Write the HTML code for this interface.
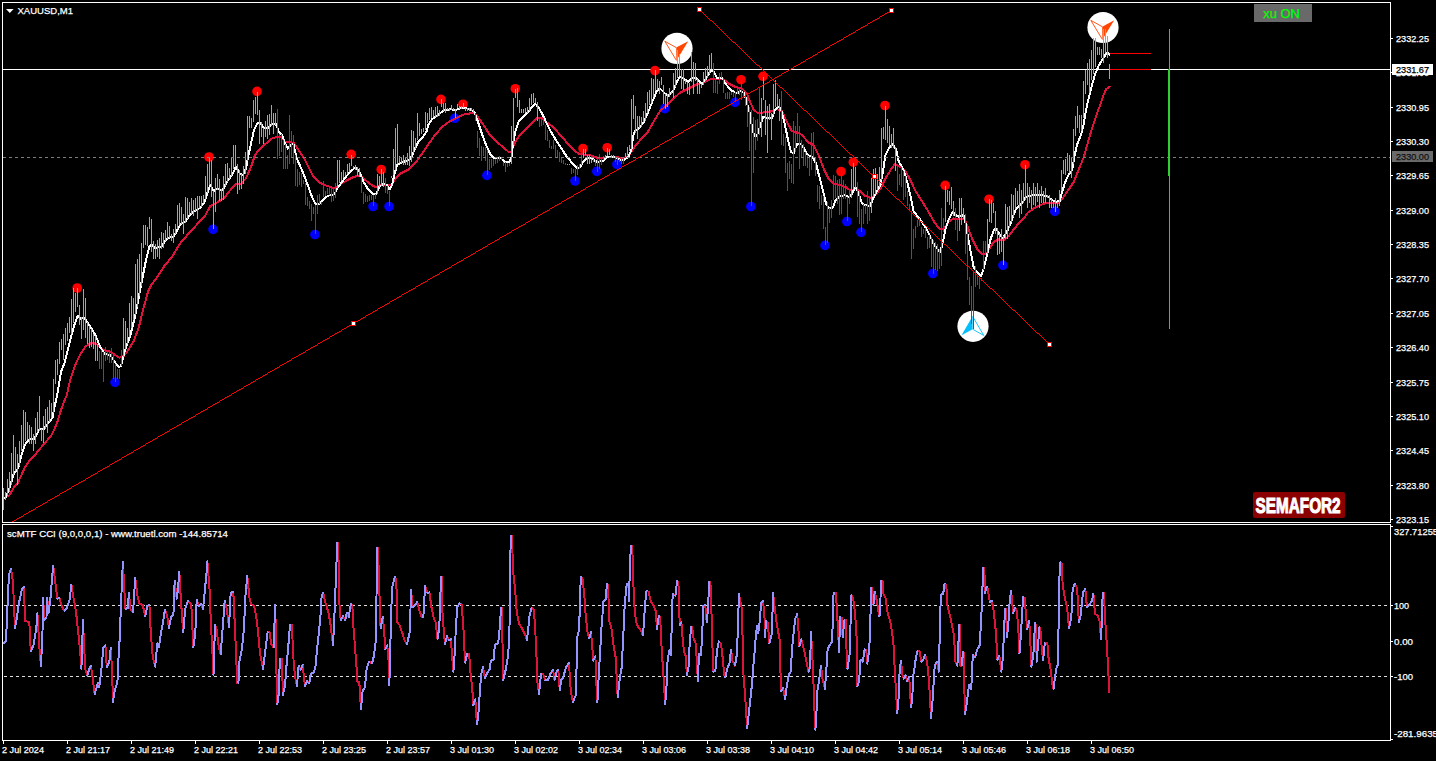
<!DOCTYPE html><html><head><meta charset="utf-8"><title>XAUUSD,M1</title>
<style>html,body{margin:0;padding:0;background:#000;}body{width:1436px;height:761px;overflow:hidden;font-family:"Liberation Sans",sans-serif;}svg{display:block}text{font-family:"Liberation Sans",sans-serif;}</style></head><body>
<svg width="1436" height="761" viewBox="0 0 1436 761">
<rect x="0" y="0" width="1436" height="761" fill="#000"/>
<defs><clipPath id="cm"><rect x="3" y="3" width="1387" height="519"/></clipPath><clipPath id="cs"><rect x="3" y="525" width="1387" height="215"/></clipPath></defs>
<g shape-rendering="crispEdges">
<rect x="2" y="2" width="1389" height="1" fill="#fff"/>
<rect x="2" y="2" width="1" height="739" fill="#fff"/>
<rect x="1390" y="2" width="1" height="739" fill="#fff"/>
<rect x="2" y="522" width="1389" height="1" fill="#fff"/>
<rect x="2" y="523" width="1389" height="1" fill="#000"/>
<rect x="2" y="524" width="1389" height="1" fill="#fff"/>
<rect x="2" y="740" width="1389" height="1" fill="#fff"/>
<rect x="3" y="69" width="1387" height="1" fill="#fff"/>
<path d="M4 605h3v1h-3zM10 605h3v1h-3zM16 605h3v1h-3zM22 605h3v1h-3zM28 605h3v1h-3zM34 605h3v1h-3zM40 605h3v1h-3zM46 605h3v1h-3zM52 605h3v1h-3zM58 605h3v1h-3zM64 605h3v1h-3zM70 605h3v1h-3zM76 605h3v1h-3zM82 605h3v1h-3zM88 605h3v1h-3zM94 605h3v1h-3zM100 605h3v1h-3zM106 605h3v1h-3zM112 605h3v1h-3zM118 605h3v1h-3zM124 605h3v1h-3zM130 605h3v1h-3zM136 605h3v1h-3zM142 605h3v1h-3zM148 605h3v1h-3zM154 605h3v1h-3zM160 605h3v1h-3zM166 605h3v1h-3zM172 605h3v1h-3zM178 605h3v1h-3zM184 605h3v1h-3zM190 605h3v1h-3zM196 605h3v1h-3zM202 605h3v1h-3zM208 605h3v1h-3zM214 605h3v1h-3zM220 605h3v1h-3zM226 605h3v1h-3zM232 605h3v1h-3zM238 605h3v1h-3zM244 605h3v1h-3zM250 605h3v1h-3zM256 605h3v1h-3zM262 605h3v1h-3zM268 605h3v1h-3zM274 605h3v1h-3zM280 605h3v1h-3zM286 605h3v1h-3zM292 605h3v1h-3zM298 605h3v1h-3zM304 605h3v1h-3zM310 605h3v1h-3zM316 605h3v1h-3zM322 605h3v1h-3zM328 605h3v1h-3zM334 605h3v1h-3zM340 605h3v1h-3zM346 605h3v1h-3zM352 605h3v1h-3zM358 605h3v1h-3zM364 605h3v1h-3zM370 605h3v1h-3zM376 605h3v1h-3zM382 605h3v1h-3zM388 605h3v1h-3zM394 605h3v1h-3zM400 605h3v1h-3zM406 605h3v1h-3zM412 605h3v1h-3zM418 605h3v1h-3zM424 605h3v1h-3zM430 605h3v1h-3zM436 605h3v1h-3zM442 605h3v1h-3zM448 605h3v1h-3zM454 605h3v1h-3zM460 605h3v1h-3zM466 605h3v1h-3zM472 605h3v1h-3zM478 605h3v1h-3zM484 605h3v1h-3zM490 605h3v1h-3zM496 605h3v1h-3zM502 605h3v1h-3zM508 605h3v1h-3zM514 605h3v1h-3zM520 605h3v1h-3zM526 605h3v1h-3zM532 605h3v1h-3zM538 605h3v1h-3zM544 605h3v1h-3zM550 605h3v1h-3zM556 605h3v1h-3zM562 605h3v1h-3zM568 605h3v1h-3zM574 605h3v1h-3zM580 605h3v1h-3zM586 605h3v1h-3zM592 605h3v1h-3zM598 605h3v1h-3zM604 605h3v1h-3zM610 605h3v1h-3zM616 605h3v1h-3zM622 605h3v1h-3zM628 605h3v1h-3zM634 605h3v1h-3zM640 605h3v1h-3zM646 605h3v1h-3zM652 605h3v1h-3zM658 605h3v1h-3zM664 605h3v1h-3zM670 605h3v1h-3zM676 605h3v1h-3zM682 605h3v1h-3zM688 605h3v1h-3zM694 605h3v1h-3zM700 605h3v1h-3zM706 605h3v1h-3zM712 605h3v1h-3zM718 605h3v1h-3zM724 605h3v1h-3zM730 605h3v1h-3zM736 605h3v1h-3zM742 605h3v1h-3zM748 605h3v1h-3zM754 605h3v1h-3zM760 605h3v1h-3zM766 605h3v1h-3zM772 605h3v1h-3zM778 605h3v1h-3zM784 605h3v1h-3zM790 605h3v1h-3zM796 605h3v1h-3zM802 605h3v1h-3zM808 605h3v1h-3zM814 605h3v1h-3zM820 605h3v1h-3zM826 605h3v1h-3zM832 605h3v1h-3zM838 605h3v1h-3zM844 605h3v1h-3zM850 605h3v1h-3zM856 605h3v1h-3zM862 605h3v1h-3zM868 605h3v1h-3zM874 605h3v1h-3zM880 605h3v1h-3zM886 605h3v1h-3zM892 605h3v1h-3zM898 605h3v1h-3zM904 605h3v1h-3zM910 605h3v1h-3zM916 605h3v1h-3zM922 605h3v1h-3zM928 605h3v1h-3zM934 605h3v1h-3zM940 605h3v1h-3zM946 605h3v1h-3zM952 605h3v1h-3zM958 605h3v1h-3zM964 605h3v1h-3zM970 605h3v1h-3zM976 605h3v1h-3zM982 605h3v1h-3zM988 605h3v1h-3zM994 605h3v1h-3zM1000 605h3v1h-3zM1006 605h3v1h-3zM1012 605h3v1h-3zM1018 605h3v1h-3zM1024 605h3v1h-3zM1030 605h3v1h-3zM1036 605h3v1h-3zM1042 605h3v1h-3zM1048 605h3v1h-3zM1054 605h3v1h-3zM1060 605h3v1h-3zM1066 605h3v1h-3zM1072 605h3v1h-3zM1078 605h3v1h-3zM1084 605h3v1h-3zM1090 605h3v1h-3zM1096 605h3v1h-3zM1102 605h3v1h-3zM1108 605h3v1h-3zM1114 605h3v1h-3zM1120 605h3v1h-3zM1126 605h3v1h-3zM1132 605h3v1h-3zM1138 605h3v1h-3zM1144 605h3v1h-3zM1150 605h3v1h-3zM1156 605h3v1h-3zM1162 605h3v1h-3zM1168 605h3v1h-3zM1174 605h3v1h-3zM1180 605h3v1h-3zM1186 605h3v1h-3zM1192 605h3v1h-3zM1198 605h3v1h-3zM1204 605h3v1h-3zM1210 605h3v1h-3zM1216 605h3v1h-3zM1222 605h3v1h-3zM1228 605h3v1h-3zM1234 605h3v1h-3zM1240 605h3v1h-3zM1246 605h3v1h-3zM1252 605h3v1h-3zM1258 605h3v1h-3zM1264 605h3v1h-3zM1270 605h3v1h-3zM1276 605h3v1h-3zM1282 605h3v1h-3zM1288 605h3v1h-3zM1294 605h3v1h-3zM1300 605h3v1h-3zM1306 605h3v1h-3zM1312 605h3v1h-3zM1318 605h3v1h-3zM1324 605h3v1h-3zM1330 605h3v1h-3zM1336 605h3v1h-3zM1342 605h3v1h-3zM1348 605h3v1h-3zM1354 605h3v1h-3zM1360 605h3v1h-3zM1366 605h3v1h-3zM1372 605h3v1h-3zM1378 605h3v1h-3zM1384 605h3v1h-3z" fill="#dedede"/>
<path d="M4 676h3v1h-3zM10 676h3v1h-3zM16 676h3v1h-3zM22 676h3v1h-3zM28 676h3v1h-3zM34 676h3v1h-3zM40 676h3v1h-3zM46 676h3v1h-3zM52 676h3v1h-3zM58 676h3v1h-3zM64 676h3v1h-3zM70 676h3v1h-3zM76 676h3v1h-3zM82 676h3v1h-3zM88 676h3v1h-3zM94 676h3v1h-3zM100 676h3v1h-3zM106 676h3v1h-3zM112 676h3v1h-3zM118 676h3v1h-3zM124 676h3v1h-3zM130 676h3v1h-3zM136 676h3v1h-3zM142 676h3v1h-3zM148 676h3v1h-3zM154 676h3v1h-3zM160 676h3v1h-3zM166 676h3v1h-3zM172 676h3v1h-3zM178 676h3v1h-3zM184 676h3v1h-3zM190 676h3v1h-3zM196 676h3v1h-3zM202 676h3v1h-3zM208 676h3v1h-3zM214 676h3v1h-3zM220 676h3v1h-3zM226 676h3v1h-3zM232 676h3v1h-3zM238 676h3v1h-3zM244 676h3v1h-3zM250 676h3v1h-3zM256 676h3v1h-3zM262 676h3v1h-3zM268 676h3v1h-3zM274 676h3v1h-3zM280 676h3v1h-3zM286 676h3v1h-3zM292 676h3v1h-3zM298 676h3v1h-3zM304 676h3v1h-3zM310 676h3v1h-3zM316 676h3v1h-3zM322 676h3v1h-3zM328 676h3v1h-3zM334 676h3v1h-3zM340 676h3v1h-3zM346 676h3v1h-3zM352 676h3v1h-3zM358 676h3v1h-3zM364 676h3v1h-3zM370 676h3v1h-3zM376 676h3v1h-3zM382 676h3v1h-3zM388 676h3v1h-3zM394 676h3v1h-3zM400 676h3v1h-3zM406 676h3v1h-3zM412 676h3v1h-3zM418 676h3v1h-3zM424 676h3v1h-3zM430 676h3v1h-3zM436 676h3v1h-3zM442 676h3v1h-3zM448 676h3v1h-3zM454 676h3v1h-3zM460 676h3v1h-3zM466 676h3v1h-3zM472 676h3v1h-3zM478 676h3v1h-3zM484 676h3v1h-3zM490 676h3v1h-3zM496 676h3v1h-3zM502 676h3v1h-3zM508 676h3v1h-3zM514 676h3v1h-3zM520 676h3v1h-3zM526 676h3v1h-3zM532 676h3v1h-3zM538 676h3v1h-3zM544 676h3v1h-3zM550 676h3v1h-3zM556 676h3v1h-3zM562 676h3v1h-3zM568 676h3v1h-3zM574 676h3v1h-3zM580 676h3v1h-3zM586 676h3v1h-3zM592 676h3v1h-3zM598 676h3v1h-3zM604 676h3v1h-3zM610 676h3v1h-3zM616 676h3v1h-3zM622 676h3v1h-3zM628 676h3v1h-3zM634 676h3v1h-3zM640 676h3v1h-3zM646 676h3v1h-3zM652 676h3v1h-3zM658 676h3v1h-3zM664 676h3v1h-3zM670 676h3v1h-3zM676 676h3v1h-3zM682 676h3v1h-3zM688 676h3v1h-3zM694 676h3v1h-3zM700 676h3v1h-3zM706 676h3v1h-3zM712 676h3v1h-3zM718 676h3v1h-3zM724 676h3v1h-3zM730 676h3v1h-3zM736 676h3v1h-3zM742 676h3v1h-3zM748 676h3v1h-3zM754 676h3v1h-3zM760 676h3v1h-3zM766 676h3v1h-3zM772 676h3v1h-3zM778 676h3v1h-3zM784 676h3v1h-3zM790 676h3v1h-3zM796 676h3v1h-3zM802 676h3v1h-3zM808 676h3v1h-3zM814 676h3v1h-3zM820 676h3v1h-3zM826 676h3v1h-3zM832 676h3v1h-3zM838 676h3v1h-3zM844 676h3v1h-3zM850 676h3v1h-3zM856 676h3v1h-3zM862 676h3v1h-3zM868 676h3v1h-3zM874 676h3v1h-3zM880 676h3v1h-3zM886 676h3v1h-3zM892 676h3v1h-3zM898 676h3v1h-3zM904 676h3v1h-3zM910 676h3v1h-3zM916 676h3v1h-3zM922 676h3v1h-3zM928 676h3v1h-3zM934 676h3v1h-3zM940 676h3v1h-3zM946 676h3v1h-3zM952 676h3v1h-3zM958 676h3v1h-3zM964 676h3v1h-3zM970 676h3v1h-3zM976 676h3v1h-3zM982 676h3v1h-3zM988 676h3v1h-3zM994 676h3v1h-3zM1000 676h3v1h-3zM1006 676h3v1h-3zM1012 676h3v1h-3zM1018 676h3v1h-3zM1024 676h3v1h-3zM1030 676h3v1h-3zM1036 676h3v1h-3zM1042 676h3v1h-3zM1048 676h3v1h-3zM1054 676h3v1h-3zM1060 676h3v1h-3zM1066 676h3v1h-3zM1072 676h3v1h-3zM1078 676h3v1h-3zM1084 676h3v1h-3zM1090 676h3v1h-3zM1096 676h3v1h-3zM1102 676h3v1h-3zM1108 676h3v1h-3zM1114 676h3v1h-3zM1120 676h3v1h-3zM1126 676h3v1h-3zM1132 676h3v1h-3zM1138 676h3v1h-3zM1144 676h3v1h-3zM1150 676h3v1h-3zM1156 676h3v1h-3zM1162 676h3v1h-3zM1168 676h3v1h-3zM1174 676h3v1h-3zM1180 676h3v1h-3zM1186 676h3v1h-3zM1192 676h3v1h-3zM1198 676h3v1h-3zM1204 676h3v1h-3zM1210 676h3v1h-3zM1216 676h3v1h-3zM1222 676h3v1h-3zM1228 676h3v1h-3zM1234 676h3v1h-3zM1240 676h3v1h-3zM1246 676h3v1h-3zM1252 676h3v1h-3zM1258 676h3v1h-3zM1264 676h3v1h-3zM1270 676h3v1h-3zM1276 676h3v1h-3zM1282 676h3v1h-3zM1288 676h3v1h-3zM1294 676h3v1h-3zM1300 676h3v1h-3zM1306 676h3v1h-3zM1312 676h3v1h-3zM1318 676h3v1h-3zM1324 676h3v1h-3zM1330 676h3v1h-3zM1336 676h3v1h-3zM1342 676h3v1h-3zM1348 676h3v1h-3zM1354 676h3v1h-3zM1360 676h3v1h-3zM1366 676h3v1h-3zM1372 676h3v1h-3zM1378 676h3v1h-3zM1384 676h3v1h-3z" fill="#dedede"/>
</g>
<circle cx="677" cy="48.4" r="15.6" fill="#fff"/><polygon points="676.2,47.6 688.2,41.199999999999996 676.4,60.4" fill="#FF4500"/><path d="M664.8 41.199999999999996L676.2 47.6M664.8 41.199999999999996L676.4 60.4" stroke="#FF4500" stroke-width="0.9" fill="none"/>
<circle cx="1103" cy="27.5" r="15.6" fill="#fff"/><polygon points="1102.2,26.7 1114.2,20.3 1102.4,39.5" fill="#FF4500"/><path d="M1090.8 20.3L1102.2 26.7M1090.8 20.3L1102.4 39.5" stroke="#FF4500" stroke-width="0.9" fill="none"/>
<circle cx="973" cy="326.3" r="15.6" fill="#fff"/><polygon points="972.6,316.3 961.5,335.3 972.6,329.2" fill="#00BFFF"/><path d="M972.6 316.3L983.8 335.5L972.6 329.2" stroke="#00BFFF" stroke-width="0.9" fill="none"/>
<circle cx="77.2" cy="288" r="4.8" fill="#FF0000"/>
<circle cx="209" cy="157" r="4.8" fill="#FF0000"/>
<circle cx="257" cy="91.4" r="4.8" fill="#FF0000"/>
<circle cx="351.2" cy="154.3" r="4.8" fill="#FF0000"/>
<circle cx="381.2" cy="169.5" r="4.8" fill="#FF0000"/>
<circle cx="441" cy="99.4" r="4.8" fill="#FF0000"/>
<circle cx="463" cy="104.2" r="4.8" fill="#FF0000"/>
<circle cx="515.3" cy="88.7" r="4.8" fill="#FF0000"/>
<circle cx="583" cy="148.5" r="4.8" fill="#FF0000"/>
<circle cx="607.2" cy="147.7" r="4.8" fill="#FF0000"/>
<circle cx="655" cy="70.6" r="4.8" fill="#FF0000"/>
<circle cx="741" cy="79.7" r="4.8" fill="#FF0000"/>
<circle cx="763" cy="76.3" r="4.8" fill="#FF0000"/>
<circle cx="885" cy="105.5" r="4.8" fill="#FF0000"/>
<circle cx="853.3" cy="162.2" r="4.8" fill="#FF0000"/>
<circle cx="841" cy="171.5" r="4.8" fill="#FF0000"/>
<circle cx="945.2" cy="185.3" r="4.8" fill="#FF0000"/>
<circle cx="989" cy="199.2" r="4.8" fill="#FF0000"/>
<circle cx="1025" cy="164.7" r="4.8" fill="#FF0000"/>
<circle cx="115" cy="382.3" r="4.8" fill="#0000FF"/>
<circle cx="213" cy="229.4" r="4.8" fill="#0000FF"/>
<circle cx="314.9" cy="234.5" r="4.8" fill="#0000FF"/>
<circle cx="373" cy="206.5" r="4.8" fill="#0000FF"/>
<circle cx="389" cy="206.5" r="4.8" fill="#0000FF"/>
<circle cx="454.8" cy="118.3" r="4.8" fill="#0000FF"/>
<circle cx="486.9" cy="175.4" r="4.8" fill="#0000FF"/>
<circle cx="575" cy="181" r="4.8" fill="#0000FF"/>
<circle cx="596.8" cy="171.4" r="4.8" fill="#0000FF"/>
<circle cx="616.9" cy="164.4" r="4.8" fill="#0000FF"/>
<circle cx="664.8" cy="108.6" r="4.8" fill="#0000FF"/>
<circle cx="735" cy="102.4" r="4.8" fill="#0000FF"/>
<circle cx="750.9" cy="206.5" r="4.8" fill="#0000FF"/>
<circle cx="825" cy="245.4" r="4.8" fill="#0000FF"/>
<circle cx="846.9" cy="221.5" r="4.8" fill="#0000FF"/>
<circle cx="861" cy="232.3" r="4.8" fill="#0000FF"/>
<circle cx="932.8" cy="273.5" r="4.8" fill="#0000FF"/>
<circle cx="1002.9" cy="265.3" r="4.8" fill="#0000FF"/>
<circle cx="1054.8" cy="211.4" r="4.8" fill="#0000FF"/>
<g clip-path="url(#cm)" fill="none" stroke-linejoin="round" stroke-linecap="round" shape-rendering="crispEdges">
<polyline points="3.0,499.0 5.8,497.0 9.2,495.5 14.2,487.0 17.5,483.7 25.0,467.0 29.2,461.0 33.4,457.0 39.3,449.5 45.0,442.8 51.0,436.0 54.3,429.4 57.7,421.0 61.0,410.0 64.3,401.0 66.5,396.0 70.2,380.0 75.2,365.0 80.2,354.4 86.0,346.0 92.0,342.7 97.0,344.4 102.0,349.4 107.0,351.0 111.0,352.0 115.3,355.0 119.5,357.7 123.7,356.0 128.7,349.4 133.7,341.0 138.7,327.7 143.7,307.6 148.0,291.7 151.3,285.0 157.0,277.5 165.0,265.0 172.0,257.0 180.0,243.6 188.6,233.6 197.0,224.4 204.5,216.9 210.3,206.0 217.0,202.6 223.7,198.5 230.4,190.0 235.8,183.7 241.0,183.7 245.9,178.6 251.0,167.0 255.0,155.0 260.0,148.6 266.0,143.5 271.8,138.5 276.8,136.9 281.0,136.9 285.0,141.9 293.5,142.7 298.5,150.0 304.4,158.6 309.4,168.6 313.6,177.0 318.6,182.0 325.3,185.3 330.3,187.0 335.3,188.7 341.0,183.7 347.0,180.3 353.7,177.0 359.5,175.3 363.7,178.6 369.6,183.7 375.4,187.0 382.0,184.5 388.0,185.3 391.3,185.3 395.5,178.6 400.5,173.6 408.8,169.4 415.5,162.8 422.0,153.6 428.9,143.5 435.6,134.3 442.3,126.8 449.0,121.8 455.6,118.5 462.3,115.0 467.3,113.8 473.5,113.0 477.7,116.8 483.5,125.0 490.0,135.2 496.9,141.9 503.6,147.7 508.6,151.9 511.6,151.9 514.4,143.5 518.6,136.8 525.3,129.3 532.0,122.6 537.0,118.0 542.0,118.0 547.0,122.6 553.7,127.6 560.4,135.2 567.0,142.7 573.8,150.2 578.8,153.6 585.5,154.9 592.0,155.6 597.0,157.7 603.9,157.7 608.9,157.0 617.0,157.0 624.0,158.6 629.0,155.2 634.0,147.7 640.0,140.3 646.7,133.7 653.4,122.0 660.0,111.0 666.8,105.2 673.5,98.6 680.0,92.7 688.5,88.5 696.9,84.3 705.0,81.8 712.0,78.5 718.6,78.8 723.6,79.3 728.6,83.5 735.3,86.9 742.0,88.5 747.0,93.5 749.2,100.0 753.4,109.2 757.6,113.0 763.4,112.5 770.0,111.7 776.8,109.2 781.8,110.9 786.8,121.7 791.8,130.9 796.9,132.6 801.9,135.0 808.6,142.6 813.6,145.0 818.6,155.2 823.6,168.5 828.6,178.6 833.6,183.6 840.3,185.2 845.3,186.9 850.3,190.3 855.4,189.4 860.4,191.0 865.4,196.0 870.4,197.8 875.4,195.3 880.4,188.6 885.4,178.6 890.5,170.2 894.6,164.3 898.8,166.0 904.7,170.2 910.0,179.2 915.0,190.0 921.8,200.9 928.5,211.8 935.2,223.5 940.2,229.3 944.3,228.5 948.5,221.8 953.5,218.5 960.2,219.3 964.4,218.5 967.7,226.8 972.0,238.5 977.0,248.6 982.0,254.4 986.0,254.4 989.5,248.6 993.7,241.9 998.7,239.4 1003.7,240.2 1008.7,236.0 1013.7,229.3 1018.7,223.5 1023.7,218.5 1027.9,212.6 1033.8,208.4 1040.5,205.0 1047.0,202.6 1053.8,202.6 1058.8,202.6 1063.0,197.6 1068.9,189.2 1073.9,181.7 1077.7,171.9 1083.6,157.7 1088.6,140.0 1093.6,123.4 1098.6,108.4 1099.4,107.0 1102.8,97.0 1106.0,89.4 1109.5,86.6" stroke="#DC143C" stroke-width="2"/>
<polyline points="3.0,499.0 5.8,497.0 10.0,487.0 13.4,474.5 18.4,467.9 21.7,454.5 25.0,444.5 30.0,439.0 34.3,439.0 39.3,429.4 43.5,429.4 48.5,422.7 52.6,417.7 54.3,407.7 56.8,397.0 61.0,372.0 64.3,363.6 70.2,340.0 74.4,325.0 77.7,316.0 81.0,319.0 84.4,317.6 90.3,326.8 95.3,335.0 100.3,347.0 104.5,353.6 110.3,355.0 115.3,362.8 118.7,367.0 121.0,366.0 124.5,352.0 130.4,335.0 135.4,315.0 138.7,297.6 142.0,280.0 142.6,277.0 146.0,260.0 149.3,247.0 151.8,244.4 155.0,247.8 161.0,247.0 166.0,240.0 170.0,237.0 173.5,237.0 177.7,229.4 181.0,223.5 185.0,222.0 191.0,213.5 196.0,210.0 200.3,207.7 204.5,201.8 207.8,191.8 210.3,185.0 213.7,191.0 217.0,189.0 222.8,190.0 227.0,181.8 232.0,175.0 236.0,166.7 239.6,173.4 243.0,175.0 246.0,168.4 247.5,160.0 251.0,143.5 254.0,130.0 257.6,122.6 261.0,123.5 263.4,127.7 268.4,127.7 271.8,124.3 276.0,124.3 279.3,132.7 281.8,134.3 285.0,143.5 287.7,148.6 291.0,144.4 293.5,144.4 296.0,155.0 297.5,160.0 303.4,173.5 308.4,186.8 312.6,198.5 316.0,204.4 320.0,203.5 325.0,197.7 330.0,195.0 334.3,194.3 337.6,187.7 343.5,180.0 349.3,172.6 355.2,167.6 359.4,171.8 363.5,181.8 368.6,190.0 373.6,194.3 376.0,194.3 379.4,186.8 383.6,183.5 387.0,185.0 389.5,189.3 392.0,185.0 394.5,174.3 397.0,165.0 403.7,161.8 410.3,159.2 413.7,151.7 417.9,142.5 422.9,136.7 427.0,130.8 428.0,125.0 432.0,119.3 439.0,114.3 444.0,110.0 450.6,109.3 455.6,110.0 463.0,107.6 470.0,109.3 474.3,111.8 477.7,121.0 481.8,133.5 486.0,145.0 490.0,153.6 493.5,157.7 500.0,157.7 505.0,162.0 509.4,162.0 511.6,157.0 512.8,145.0 515.3,131.8 518.6,121.8 522.8,116.8 527.8,112.6 532.0,106.8 535.3,103.7 538.7,107.6 542.9,115.0 547.0,124.3 552.0,133.5 557.0,141.9 562.0,149.4 567.0,157.0 572.0,162.7 576.3,167.8 579.6,167.8 583.8,161.0 587.0,157.7 592.0,158.6 597.0,162.0 603.0,161.0 607.2,157.0 613.9,157.0 618.9,159.4 624.0,160.2 628.6,156.5 631.4,149.5 633.2,135.6 635.0,130.5 639.0,128.5 644.0,121.8 649.0,110.0 653.0,100.0 656.5,91.7 660.0,88.5 665.0,93.5 668.5,96.0 673.5,90.2 676.8,81.8 680.0,76.8 684.3,79.3 688.5,81.8 692.7,77.7 696.9,78.5 701.9,84.3 706.0,78.5 711.0,70.0 713.6,71.8 717.0,77.7 722.0,77.7 726.0,84.3 731.0,90.2 737.0,93.5 741.0,91.0 744.5,93.5 747.0,103.6 749.2,110.0 751.7,125.0 754.2,136.0 756.7,136.0 760.0,126.7 763.4,116.7 768.4,118.4 771.8,118.4 775.0,110.0 778.5,106.7 781.0,109.2 784.3,121.7 787.7,138.4 791.0,151.8 793.5,153.5 796.9,144.3 800.2,143.5 803.5,147.6 807.7,155.2 812.7,156.8 816.0,163.5 819.4,176.9 822.8,190.3 826.0,203.6 828.6,207.8 832.8,207.8 836.0,199.4 840.3,196.0 845.3,195.3 848.7,197.0 851.2,195.3 855.4,187.0 858.7,193.6 862.0,203.6 866.2,205.3 870.4,206.0 872.9,198.6 877.0,191.0 880.4,185.2 882.9,171.9 885.4,155.2 888.8,148.5 893.0,144.3 896.3,150.0 898.8,161.8 902.0,166.9 904.2,171.7 907.6,183.4 911.0,198.4 913.4,211.0 919.3,218.5 925.0,226.8 929.3,234.3 933.5,243.5 937.7,249.4 940.2,251.9 942.7,243.5 945.2,230.2 948.5,220.0 952.7,211.8 955.2,215.0 959.4,216.8 963.6,215.0 966.0,225.2 968.6,240.2 971.0,253.6 973.6,267.0 977.0,272.0 981.0,276.0 983.6,268.6 987.0,255.2 990.3,240.2 993.7,230.2 996.2,228.5 999.5,234.4 1002.8,238.5 1007.0,231.8 1011.2,221.8 1015.4,210.0 1018.7,206.0 1022.9,201.8 1026.2,196.7 1032.0,195.4 1040.5,195.0 1047.0,196.0 1052.0,200.0 1056.3,201.8 1059.7,201.0 1062.2,191.7 1064.7,183.4 1068.0,175.8 1072.2,170.0 1074.4,156.8 1076.9,145.0 1081.0,135.0 1083.6,125.0 1086.0,110.0 1088.6,98.6 1092.0,85.2 1095.3,73.5 1098.6,66.0 1102.0,60.2 1105.3,55.0 1107.8,52.6 1109.5,55.0" stroke="#fff" stroke-width="2"/>
</g>
<g shape-rendering="crispEdges" clip-path="url(#cm)">
<path d="M3 488v22h1v-22zM5 492v8h1v-8zM7 479v17h1v-17zM9 472v20h1v-20zM11 453v32h1v-32zM13 435v40h1v-40zM15 447v24h1v-24zM17 454v31h1v-31zM19 441v25h1v-25zM21 425v26h1v-26zM23 410v36h1v-36zM25 412v29h1v-29zM27 422v18h1v-18zM29 425v19h1v-19zM31 427v17h1v-17zM33 434v17h1v-17zM35 418v26h1v-26zM37 412v20h1v-20zM39 396v35h1v-35zM41 429v12h1v-12zM43 416v27h1v-27zM45 409v20h1v-20zM47 407v26h1v-26zM49 400v22h1v-22zM51 403v15h1v-15zM53 379v34h1v-34zM55 360v24h1v-24zM57 359v16h1v-16zM59 342v22h1v-22zM61 339v11h1v-11zM63 334v26h1v-26zM65 328v17h1v-17zM67 323v18h1v-18zM69 317v16h1v-16zM71 299v35h1v-35zM73 288v35h1v-35zM75 293v19h1v-19zM77 288v19h1v-19zM79 305v20h1v-20zM81 317v22h1v-22zM83 289v41h1v-41zM85 298v40h1v-40zM87 322v22h1v-22zM89 326v22h1v-22zM91 329v18h1v-18zM93 334v15h1v-15zM95 336v25h1v-25zM97 344v17h1v-17zM123 318v39h1v-39zM125 321v28h1v-28zM127 328v16h1v-16zM129 303v34h1v-34zM131 296v32h1v-32zM133 298v22h1v-22zM135 264v51h1v-51zM137 259v48h1v-48zM139 254v42h1v-42zM141 243v43h1v-43zM143 225v23h1v-23zM145 225v20h1v-20zM147 227v19h1v-19zM149 217v12h1v-12zM151 219v33h1v-33zM153 241v18h1v-18zM155 244v15h1v-15zM157 240v17h1v-17zM159 238v21h1v-21zM161 232v17h1v-17zM163 233v15h1v-15zM165 230v11h1v-11zM167 222v17h1v-17zM169 226v12h1v-12zM171 234v7h1v-7zM173 229v14h1v-14zM175 224v10h1v-10zM177 205v24h1v-24zM179 203v22h1v-22zM181 207v17h1v-17zM183 214v20h1v-20zM185 197v26h1v-26zM187 198v21h1v-21zM189 202v13h1v-13zM191 198v16h1v-16zM193 200v16h1v-16zM195 198v13h1v-13zM197 196v23h1v-23zM199 196v12h1v-12zM201 196v11h1v-11zM203 195v8h1v-8zM205 176v23h1v-23zM207 164v29h1v-29zM209 158v27h1v-27zM211 160v37h1v-37zM213 191v38h1v-38zM215 178v34h1v-34zM217 174v16h1v-16zM219 179v22h1v-22zM221 189v12h1v-12zM223 176v24h1v-24zM225 164v22h1v-22zM227 163v19h1v-19zM229 168v11h1v-11zM231 158v18h1v-18zM233 145v24h1v-24zM235 145v22h1v-22zM237 164v30h1v-30zM239 170v20h1v-20zM241 174v15h1v-15zM243 166v18h1v-18zM245 152v22h1v-22zM247 116v45h1v-45zM249 116v12h1v-12zM251 118v10h1v-10zM253 100v22h1v-22zM255 97v17h1v-17zM257 92v23h1v-23zM259 110v34h1v-34zM261 122v15h1v-15zM263 128v16h1v-16zM265 121v16h1v-16zM267 115v24h1v-24zM269 114v21h1v-21zM271 105v21h1v-21zM273 113v21h1v-21zM275 113v12h1v-12zM337 160v28h1v-28zM339 160v23h1v-23zM341 172v9h1v-9zM343 170v8h1v-8zM345 172v4h1v-4zM347 164v10h1v-10zM349 163v9h1v-9zM351 155v11h1v-11zM353 166v2h1v-2zM355 165v5h1v-5zM357 167v9h1v-9zM359 168v9h1v-9zM377 174v20h1v-20zM379 176v11h1v-11zM381 169v17h1v-17zM383 172v15h1v-15zM391 176v2h1v-2zM393 149v26h1v-26zM395 128v42h1v-42zM397 124v40h1v-40zM399 156v7h1v-7zM401 157v6h1v-6zM403 155v10h1v-10zM405 157v8h1v-8zM407 153v12h1v-12zM409 146v20h1v-20zM411 130v32h1v-32zM413 131v22h1v-22zM415 138v11h1v-11zM417 113v27h1v-27zM419 123v13h1v-13zM421 129v5h1v-5zM423 128v4h1v-4zM425 112v18h1v-18zM427 113v10h1v-10zM429 108v12h1v-12zM431 107v11h1v-11zM433 110v7h1v-7zM435 107v10h1v-10zM437 106v11h1v-11zM439 110v6h1v-6zM441 99v8h1v-8zM443 103v8h1v-8zM445 103v10h1v-10zM447 108v2h1v-2zM449 109v2h1v-2zM451 105v5h1v-5zM453 108v2h1v-2zM455 109v9h1v-9zM457 104v4h1v-4zM459 106v3h1v-3zM461 106v3h1v-3zM463 103v5h1v-5zM465 108v3h1v-3zM467 108v3h1v-3zM469 108v3h1v-3zM471 108v3h1v-3zM473 109v4h1v-4zM511 126v38h1v-38zM513 98v47h1v-47zM515 89v9h1v-9zM517 88v19h1v-19zM519 100v13h1v-13zM521 109v4h1v-4zM523 109v4h1v-4zM525 108v5h1v-5zM527 107v6h1v-6zM529 98v13h1v-13zM531 94v11h1v-11zM533 93v10h1v-10zM535 98v5h1v-5zM537 102v19h1v-19zM567 164v1h1v-1zM569 164v1h1v-1zM583 149v9h1v-9zM585 149v6h1v-6zM587 155v9h1v-9zM589 155v9h1v-9zM591 159v4h1v-4zM605 155v2h1v-2zM607 148v8h1v-8zM609 149v6h1v-6zM611 155v2h1v-2zM613 155v3h1v-3zM625 153v4h1v-4zM627 147v8h1v-8zM629 145v6h1v-6zM631 99v50h1v-50zM633 95v24h1v-24zM635 106v27h1v-27zM637 116v23h1v-23zM639 116v12h1v-12zM641 117v10h1v-10zM643 111v11h1v-11zM645 103v18h1v-18zM647 92v21h1v-21zM649 90v15h1v-15zM651 78v25h1v-25zM653 79v18h1v-18zM655 70v21h1v-21zM657 79v11h1v-11zM659 81v13h1v-13zM661 77v8h1v-8zM663 85v19h1v-19zM665 94v15h1v-15zM667 94v13h1v-13zM669 88v9h1v-9zM671 92v2h1v-2zM673 73v25h1v-25zM675 68v19h1v-19zM677 50v28h1v-28zM679 54v22h1v-22zM681 69v20h1v-20zM683 69v21h1v-21zM685 80v4h1v-4zM687 82v12h1v-12zM689 83v12h1v-12zM691 52v30h1v-30zM693 62v32h1v-32zM695 63v18h1v-18zM697 79v15h1v-15zM699 83v11h1v-11zM701 84v4h1v-4zM703 72v13h1v-13zM705 68v13h1v-13zM707 66v12h1v-12zM709 55v19h1v-19zM711 53v16h1v-16zM761 98v39h1v-39zM763 77v23h1v-23zM765 100v35h1v-35zM767 106v47h1v-47zM769 104v16h1v-16zM771 113v27h1v-27zM773 84v31h1v-31zM775 80v27h1v-27zM777 94v13h1v-13zM779 99v22h1v-22zM851 169v29h1v-29zM853 163v26h1v-26zM855 167v21h1v-21zM871 178v35h1v-35zM873 169v28h1v-28zM875 168v26h1v-26zM877 174v16h1v-16zM879 167v20h1v-20zM881 128v52h1v-52zM883 127v12h1v-12zM885 106v34h1v-34zM887 119v24h1v-24zM889 126v20h1v-20zM891 134v14h1v-14zM893 128v20h1v-20zM895 147v24h1v-24zM945 186v36h1v-36zM947 190v12h1v-12zM949 191v14h1v-14zM951 187v22h1v-22zM953 201v15h1v-15zM959 198v33h1v-33zM961 198v27h1v-27zM963 208v11h1v-11zM987 219v35h1v-35zM989 199v23h1v-23zM991 200v23h1v-23zM993 203v10h1v-10zM995 211v23h1v-23zM997 228v27h1v-27zM999 234v20h1v-20zM1001 229v23h1v-23zM1003 236v29h1v-29zM1005 204v35h1v-35zM1007 207v32h1v-32zM1009 206v22h1v-22zM1011 194v28h1v-28zM1013 195v22h1v-22zM1015 188v21h1v-21zM1017 191v14h1v-14zM1019 184v34h1v-34zM1021 190v24h1v-24zM1023 183v20h1v-20zM1025 165v35h1v-35zM1027 183v25h1v-25zM1029 187v16h1v-16zM1031 190v19h1v-19zM1033 183v22h1v-22zM1035 187v19h1v-19zM1037 183v19h1v-19zM1039 190v18h1v-18zM1041 186v17h1v-17zM1043 191v12h1v-12zM1045 188v15h1v-15zM1047 195v3h1v-3zM1049 195v13h1v-13zM1051 199v9h1v-9zM1053 202v6h1v-6zM1055 198v14h1v-14zM1057 202v6h1v-6zM1059 190v16h1v-16zM1061 170v21h1v-21zM1063 160v14h1v-14zM1065 159v16h1v-16zM1067 153v18h1v-18zM1069 155v18h1v-18zM1071 158v20h1v-20zM1073 129v35h1v-35zM1075 116v20h1v-20zM1077 106v22h1v-22zM1079 115v18h1v-18zM1081 115v16h1v-16zM1083 81v37h1v-37zM1085 70v24h1v-24zM1087 63v22h1v-22zM1089 59v34h1v-34zM1091 50v30h1v-30zM1093 38v36h1v-36zM1095 38v29h1v-29zM1097 47v8h1v-8zM1099 47v8h1v-8zM1101 49v9h1v-9zM1103 29v34h1v-34zM1105 29v24h1v-24zM1107 36v22h1v-22zM1109 64v15h1v-15z" fill="#00FA9A"/>
<path d="M99 351v18h1v-18zM101 350v19h1v-19zM103 352v30h1v-30zM105 347v14h1v-14zM107 350v10h1v-10zM109 350v13h1v-13zM111 348v15h1v-15zM113 355v24h1v-24zM115 364v18h1v-18zM117 369v10h1v-10zM119 369v10h1v-10zM121 350v16h1v-16zM277 109v50h1v-50zM279 134v22h1v-22zM281 134v18h1v-18zM283 140v29h1v-29zM285 144v25h1v-25zM287 155v14h1v-14zM289 115v49h1v-49zM291 131v26h1v-26zM293 135v29h1v-29zM295 155v31h1v-31zM297 169v18h1v-18zM299 172v13h1v-13zM301 173v14h1v-14zM303 180v4h1v-4zM305 183v22h1v-22zM307 197v9h1v-9zM309 201v8h1v-8zM311 204v17h1v-17zM313 207v7h1v-7zM315 205v29h1v-29zM317 195v19h1v-19zM319 194v10h1v-10zM321 202v3h1v-3zM323 181v16h1v-16zM325 191v5h1v-5zM327 188v6h1v-6zM329 188v7h1v-7zM331 188v14h1v-14zM333 189v12h1v-12zM335 183v15h1v-15zM361 177v16h1v-16zM363 192v12h1v-12zM365 194v8h1v-8zM367 196v6h1v-6zM369 195v6h1v-6zM371 195v5h1v-5zM373 195v11h1v-11zM375 194v5h1v-5zM385 178v15h1v-15zM387 186v8h1v-8zM389 191v15h1v-15zM475 113v8h1v-8zM477 131v17h1v-17zM479 138v18h1v-18zM481 146v15h1v-15zM483 147v9h1v-9zM485 147v14h1v-14zM487 150v25h1v-25zM489 159v11h1v-11zM491 159v9h1v-9zM493 159v7h1v-7zM495 159v5h1v-5zM497 157v6h1v-6zM499 156v5h1v-5zM501 157v3h1v-3zM503 162v4h1v-4zM505 162v10h1v-10zM507 163v4h1v-4zM509 163v3h1v-3zM539 118v9h1v-9zM541 118v8h1v-8zM543 118v7h1v-7zM545 125v15h1v-15zM547 130v11h1v-11zM549 140v8h1v-8zM551 146v3h1v-3zM553 140v9h1v-9zM555 145v12h1v-12zM557 150v8h1v-8zM559 152v10h1v-10zM561 157v6h1v-6zM563 160v4h1v-4zM565 163v2h1v-2zM571 168v6h1v-6zM573 169v4h1v-4zM575 169v12h1v-12zM577 165v10h1v-10zM579 164v5h1v-5zM581 155v10h1v-10zM593 159v3h1v-3zM595 160v6h1v-6zM597 157v15h1v-15zM599 154v15h1v-15zM601 159v6h1v-6zM603 156v4h1v-4zM615 158v4h1v-4zM617 158v7h1v-7zM619 159v3h1v-3zM621 159v5h1v-5zM623 159v5h1v-5zM713 63v30h1v-30zM715 80v13h1v-13zM717 81v13h1v-13zM719 73v11h1v-11zM721 72v6h1v-6zM723 78v15h1v-15zM725 93v6h1v-6zM727 92v7h1v-7zM729 92v7h1v-7zM731 92v3h1v-3zM733 92v5h1v-5zM735 92v10h1v-10zM737 86v8h1v-8zM739 87v8h1v-8zM741 80v20h1v-20zM743 92v5h1v-5zM745 92v14h1v-14zM747 95v32h1v-32zM749 107v44h1v-44zM751 110v96h1v-96zM753 117v56h1v-56zM755 120v30h1v-30zM757 119v22h1v-22zM759 88v47h1v-47zM781 91v54h1v-54zM783 134v12h1v-12zM785 137v36h1v-36zM787 163v28h1v-28zM789 161v18h1v-18zM791 164v19h1v-19zM793 121v63h1v-63zM795 126v26h1v-26zM797 113v29h1v-29zM799 126v43h1v-43zM801 140v18h1v-18zM803 144v22h1v-22zM805 152v14h1v-14zM807 155v13h1v-13zM809 157v19h1v-19zM811 133v37h1v-37zM813 132v26h1v-26zM815 158v18h1v-18zM817 185v17h1v-17zM819 186v23h1v-23zM821 195v10h1v-10zM823 196v33h1v-33zM825 227v18h1v-18zM827 202v41h1v-41zM829 208v15h1v-15zM831 200v18h1v-18zM833 175v25h1v-25zM835 176v22h1v-22zM837 180v24h1v-24zM839 179v36h1v-36zM841 174v40h1v-40zM843 180v19h1v-19zM845 184v15h1v-15zM847 197v24h1v-24zM849 191v13h1v-13zM857 182v35h1v-35zM859 190v34h1v-34zM861 209v23h1v-23zM863 204v20h1v-20zM865 205v9h1v-9zM867 191v33h1v-33zM869 197v24h1v-24zM897 165v26h1v-26zM899 174v11h1v-11zM901 167v20h1v-20zM903 171v29h1v-29zM905 176v21h1v-21zM907 191v15h1v-15zM909 204v7h1v-7zM911 211v48h1v-48zM913 229v20h1v-20zM915 226v12h1v-12zM917 220v7h1v-7zM919 218v8h1v-8zM921 227v10h1v-10zM923 229v5h1v-5zM925 228v10h1v-10zM927 237v12h1v-12zM929 235v13h1v-13zM931 237v30h1v-30zM933 240v34h1v-34zM935 242v28h1v-28zM937 244v27h1v-27zM939 249v20h1v-20zM941 208v58h1v-58zM943 218v14h1v-14zM955 208v22h1v-22zM957 218v23h1v-23zM965 214v40h1v-40zM967 227v53h1v-53zM969 277v28h1v-28zM971 286v38h1v-38zM973 271v58h1v-58zM975 266v21h1v-21zM977 275v10h1v-10zM979 277v12h1v-12zM981 278v3h1v-3zM983 241v29h1v-29zM985 241v13h1v-13z" fill="#DC143C"/>
</g>
<path d="M3 157h3v1h-3zM9 157h3v1h-3zM15 157h3v1h-3zM21 157h3v1h-3zM27 157h3v1h-3zM33 157h3v1h-3zM39 157h3v1h-3zM45 157h3v1h-3zM51 157h3v1h-3zM57 157h3v1h-3zM63 157h3v1h-3zM69 157h3v1h-3zM75 157h3v1h-3zM81 157h3v1h-3zM87 157h3v1h-3zM93 157h3v1h-3zM99 157h3v1h-3zM105 157h3v1h-3zM111 157h3v1h-3zM117 157h3v1h-3zM123 157h3v1h-3zM129 157h3v1h-3zM135 157h3v1h-3zM141 157h3v1h-3zM147 157h3v1h-3zM153 157h3v1h-3zM159 157h3v1h-3zM165 157h3v1h-3zM171 157h3v1h-3zM177 157h3v1h-3zM183 157h3v1h-3zM189 157h3v1h-3zM195 157h3v1h-3zM201 157h3v1h-3zM207 157h3v1h-3zM213 157h3v1h-3zM219 157h3v1h-3zM225 157h3v1h-3zM231 157h3v1h-3zM237 157h3v1h-3zM243 157h3v1h-3zM249 157h3v1h-3zM255 157h3v1h-3zM261 157h3v1h-3zM267 157h3v1h-3zM273 157h3v1h-3zM279 157h3v1h-3zM285 157h3v1h-3zM291 157h3v1h-3zM297 157h3v1h-3zM303 157h3v1h-3zM309 157h3v1h-3zM315 157h3v1h-3zM321 157h3v1h-3zM327 157h3v1h-3zM333 157h3v1h-3zM339 157h3v1h-3zM345 157h3v1h-3zM351 157h3v1h-3zM357 157h3v1h-3zM363 157h3v1h-3zM369 157h3v1h-3zM375 157h3v1h-3zM381 157h3v1h-3zM387 157h3v1h-3zM393 157h3v1h-3zM399 157h3v1h-3zM405 157h3v1h-3zM411 157h3v1h-3zM417 157h3v1h-3zM423 157h3v1h-3zM429 157h3v1h-3zM435 157h3v1h-3zM441 157h3v1h-3zM447 157h3v1h-3zM453 157h3v1h-3zM459 157h3v1h-3zM465 157h3v1h-3zM471 157h3v1h-3zM477 157h3v1h-3zM483 157h3v1h-3zM489 157h3v1h-3zM495 157h3v1h-3zM501 157h3v1h-3zM507 157h3v1h-3zM513 157h3v1h-3zM519 157h3v1h-3zM525 157h3v1h-3zM531 157h3v1h-3zM537 157h3v1h-3zM543 157h3v1h-3zM549 157h3v1h-3zM555 157h3v1h-3zM561 157h3v1h-3zM567 157h3v1h-3zM573 157h3v1h-3zM579 157h3v1h-3zM585 157h3v1h-3zM591 157h3v1h-3zM597 157h3v1h-3zM603 157h3v1h-3zM609 157h3v1h-3zM615 157h3v1h-3zM621 157h3v1h-3zM627 157h3v1h-3zM633 157h3v1h-3zM639 157h3v1h-3zM645 157h3v1h-3zM651 157h3v1h-3zM657 157h3v1h-3zM663 157h3v1h-3zM669 157h3v1h-3zM675 157h3v1h-3zM681 157h3v1h-3zM687 157h3v1h-3zM693 157h3v1h-3zM699 157h3v1h-3zM705 157h3v1h-3zM711 157h3v1h-3zM717 157h3v1h-3zM723 157h3v1h-3zM729 157h3v1h-3zM735 157h3v1h-3zM741 157h3v1h-3zM747 157h3v1h-3zM753 157h3v1h-3zM759 157h3v1h-3zM765 157h3v1h-3zM771 157h3v1h-3zM777 157h3v1h-3zM783 157h3v1h-3zM789 157h3v1h-3zM795 157h3v1h-3zM801 157h3v1h-3zM807 157h3v1h-3zM813 157h3v1h-3zM819 157h3v1h-3zM825 157h3v1h-3zM831 157h3v1h-3zM837 157h3v1h-3zM843 157h3v1h-3zM849 157h3v1h-3zM855 157h3v1h-3zM861 157h3v1h-3zM867 157h3v1h-3zM873 157h3v1h-3zM879 157h3v1h-3zM885 157h3v1h-3zM891 157h3v1h-3zM897 157h3v1h-3zM903 157h3v1h-3zM909 157h3v1h-3zM915 157h3v1h-3zM921 157h3v1h-3zM927 157h3v1h-3zM933 157h3v1h-3zM939 157h3v1h-3zM945 157h3v1h-3zM951 157h3v1h-3zM957 157h3v1h-3zM963 157h3v1h-3zM969 157h3v1h-3zM975 157h3v1h-3zM981 157h3v1h-3zM987 157h3v1h-3zM993 157h3v1h-3zM999 157h3v1h-3zM1005 157h3v1h-3zM1011 157h3v1h-3zM1017 157h3v1h-3zM1023 157h3v1h-3zM1029 157h3v1h-3zM1035 157h3v1h-3zM1041 157h3v1h-3zM1047 157h3v1h-3zM1053 157h3v1h-3zM1059 157h3v1h-3zM1065 157h3v1h-3zM1071 157h3v1h-3zM1077 157h3v1h-3zM1083 157h3v1h-3zM1089 157h3v1h-3zM1095 157h3v1h-3zM1101 157h3v1h-3zM1107 157h3v1h-3zM1113 157h3v1h-3zM1119 157h3v1h-3zM1125 157h3v1h-3zM1131 157h3v1h-3zM1137 157h3v1h-3zM1143 157h3v1h-3zM1149 157h3v1h-3zM1155 157h3v1h-3zM1161 157h3v1h-3zM1167 157h3v1h-3zM1173 157h3v1h-3zM1179 157h3v1h-3zM1185 157h3v1h-3zM1191 157h3v1h-3zM1197 157h3v1h-3zM1203 157h3v1h-3zM1209 157h3v1h-3zM1215 157h3v1h-3zM1221 157h3v1h-3zM1227 157h3v1h-3zM1233 157h3v1h-3zM1239 157h3v1h-3zM1245 157h3v1h-3zM1251 157h3v1h-3zM1257 157h3v1h-3zM1263 157h3v1h-3zM1269 157h3v1h-3zM1275 157h3v1h-3zM1281 157h3v1h-3zM1287 157h3v1h-3zM1293 157h3v1h-3zM1299 157h3v1h-3zM1305 157h3v1h-3zM1311 157h3v1h-3zM1317 157h3v1h-3zM1323 157h3v1h-3zM1329 157h3v1h-3zM1335 157h3v1h-3zM1341 157h3v1h-3zM1347 157h3v1h-3zM1353 157h3v1h-3zM1359 157h3v1h-3zM1365 157h3v1h-3zM1371 157h3v1h-3zM1377 157h3v1h-3zM1383 157h3v1h-3zM1389 157h1v1h-1z" fill="#7f7f7f" shape-rendering="crispEdges"/>
<path d="M12 521h1v1h-1zM13 521h1v1h-1zM14 520h1v1h-1zM15 520h1v1h-1zM16 519h1v1h-1zM17 518h1v1h-1zM18 518h1v1h-1zM19 517h1v1h-1zM20 517h1v1h-1zM21 516h1v1h-1zM22 516h1v1h-1zM23 515h1v1h-1zM24 514h1v1h-1zM25 514h1v1h-1zM26 513h1v1h-1zM27 513h1v1h-1zM28 512h1v1h-1zM29 511h1v1h-1zM30 511h1v1h-1zM31 510h1v1h-1zM32 510h1v1h-1zM33 509h1v1h-1zM34 509h1v1h-1zM35 508h1v1h-1zM36 507h1v1h-1zM37 507h1v1h-1zM38 506h1v1h-1zM39 506h1v1h-1zM40 505h1v1h-1zM41 505h1v1h-1zM42 504h1v1h-1zM43 503h1v1h-1zM44 503h1v1h-1zM45 502h1v1h-1zM46 502h1v1h-1zM47 501h1v1h-1zM48 500h1v1h-1zM49 500h1v1h-1zM50 499h1v1h-1zM51 499h1v1h-1zM52 498h1v1h-1zM53 498h1v1h-1zM54 497h1v1h-1zM55 496h1v1h-1zM56 496h1v1h-1zM57 495h1v1h-1zM58 495h1v1h-1zM59 494h1v1h-1zM60 493h1v1h-1zM61 493h1v1h-1zM62 492h1v1h-1zM63 492h1v1h-1zM64 491h1v1h-1zM65 491h1v1h-1zM66 490h1v1h-1zM67 489h1v1h-1zM68 489h1v1h-1zM69 488h1v1h-1zM70 488h1v1h-1zM71 487h1v1h-1zM72 486h1v1h-1zM73 486h1v1h-1zM74 485h1v1h-1zM75 485h1v1h-1zM76 484h1v1h-1zM77 484h1v1h-1zM78 483h1v1h-1zM79 482h1v1h-1zM80 482h1v1h-1zM81 481h1v1h-1zM82 481h1v1h-1zM83 480h1v1h-1zM84 480h1v1h-1zM85 479h1v1h-1zM86 478h1v1h-1zM87 478h1v1h-1zM88 477h1v1h-1zM89 477h1v1h-1zM90 476h1v1h-1zM91 475h1v1h-1zM92 475h1v1h-1zM93 474h1v1h-1zM94 474h1v1h-1zM95 473h1v1h-1zM96 473h1v1h-1zM97 472h1v1h-1zM98 471h1v1h-1zM99 471h1v1h-1zM100 470h1v1h-1zM101 470h1v1h-1zM102 469h1v1h-1zM103 468h1v1h-1zM104 468h1v1h-1zM105 467h1v1h-1zM106 467h1v1h-1zM107 466h1v1h-1zM108 466h1v1h-1zM109 465h1v1h-1zM110 464h1v1h-1zM111 464h1v1h-1zM112 463h1v1h-1zM113 463h1v1h-1zM114 462h1v1h-1zM115 461h1v1h-1zM116 461h1v1h-1zM117 460h1v1h-1zM118 460h1v1h-1zM119 459h1v1h-1zM120 459h1v1h-1zM121 458h1v1h-1zM122 457h1v1h-1zM123 457h1v1h-1zM124 456h1v1h-1zM125 456h1v1h-1zM126 455h1v1h-1zM127 454h1v1h-1zM128 454h1v1h-1zM129 453h1v1h-1zM130 453h1v1h-1zM131 452h1v1h-1zM132 452h1v1h-1zM133 451h1v1h-1zM134 450h1v1h-1zM135 450h1v1h-1zM136 449h1v1h-1zM137 449h1v1h-1zM138 448h1v1h-1zM139 448h1v1h-1zM140 447h1v1h-1zM141 446h1v1h-1zM142 446h1v1h-1zM143 445h1v1h-1zM144 445h1v1h-1zM145 444h1v1h-1zM146 443h1v1h-1zM147 443h1v1h-1zM148 442h1v1h-1zM149 442h1v1h-1zM150 441h1v1h-1zM151 441h1v1h-1zM152 440h1v1h-1zM153 439h1v1h-1zM154 439h1v1h-1zM155 438h1v1h-1zM156 438h1v1h-1zM157 437h1v1h-1zM158 436h1v1h-1zM159 436h1v1h-1zM160 435h1v1h-1zM161 435h1v1h-1zM162 434h1v1h-1zM163 434h1v1h-1zM164 433h1v1h-1zM165 432h1v1h-1zM166 432h1v1h-1zM167 431h1v1h-1zM168 431h1v1h-1zM169 430h1v1h-1zM170 429h1v1h-1zM171 429h1v1h-1zM172 428h1v1h-1zM173 428h1v1h-1zM174 427h1v1h-1zM175 427h1v1h-1zM176 426h1v1h-1zM177 425h1v1h-1zM178 425h1v1h-1zM179 424h1v1h-1zM180 424h1v1h-1zM181 423h1v1h-1zM182 422h1v1h-1zM183 422h1v1h-1zM184 421h1v1h-1zM185 421h1v1h-1zM186 420h1v1h-1zM187 420h1v1h-1zM188 419h1v1h-1zM189 418h1v1h-1zM190 418h1v1h-1zM191 417h1v1h-1zM192 417h1v1h-1zM193 416h1v1h-1zM194 416h1v1h-1zM195 415h1v1h-1zM196 414h1v1h-1zM197 414h1v1h-1zM198 413h1v1h-1zM199 413h1v1h-1zM200 412h1v1h-1zM201 411h1v1h-1zM202 411h1v1h-1zM203 410h1v1h-1zM204 410h1v1h-1zM205 409h1v1h-1zM206 409h1v1h-1zM207 408h1v1h-1zM208 407h1v1h-1zM209 407h1v1h-1zM210 406h1v1h-1zM211 406h1v1h-1zM212 405h1v1h-1zM213 404h1v1h-1zM214 404h1v1h-1zM215 403h1v1h-1zM216 403h1v1h-1zM217 402h1v1h-1zM218 402h1v1h-1zM219 401h1v1h-1zM220 400h1v1h-1zM221 400h1v1h-1zM222 399h1v1h-1zM223 399h1v1h-1zM224 398h1v1h-1zM225 397h1v1h-1zM226 397h1v1h-1zM227 396h1v1h-1zM228 396h1v1h-1zM229 395h1v1h-1zM230 395h1v1h-1zM231 394h1v1h-1zM232 393h1v1h-1zM233 393h1v1h-1zM234 392h1v1h-1zM235 392h1v1h-1zM236 391h1v1h-1zM237 390h1v1h-1zM238 390h1v1h-1zM239 389h1v1h-1zM240 389h1v1h-1zM241 388h1v1h-1zM242 388h1v1h-1zM243 387h1v1h-1zM244 386h1v1h-1zM245 386h1v1h-1zM246 385h1v1h-1zM247 385h1v1h-1zM248 384h1v1h-1zM249 384h1v1h-1zM250 383h1v1h-1zM251 382h1v1h-1zM252 382h1v1h-1zM253 381h1v1h-1zM254 381h1v1h-1zM255 380h1v1h-1zM256 379h1v1h-1zM257 379h1v1h-1zM258 378h1v1h-1zM259 378h1v1h-1zM260 377h1v1h-1zM261 377h1v1h-1zM262 376h1v1h-1zM263 375h1v1h-1zM264 375h1v1h-1zM265 374h1v1h-1zM266 374h1v1h-1zM267 373h1v1h-1zM268 372h1v1h-1zM269 372h1v1h-1zM270 371h1v1h-1zM271 371h1v1h-1zM272 370h1v1h-1zM273 370h1v1h-1zM274 369h1v1h-1zM275 368h1v1h-1zM276 368h1v1h-1zM277 367h1v1h-1zM278 367h1v1h-1zM279 366h1v1h-1zM280 365h1v1h-1zM281 365h1v1h-1zM282 364h1v1h-1zM283 364h1v1h-1zM284 363h1v1h-1zM285 363h1v1h-1zM286 362h1v1h-1zM287 361h1v1h-1zM288 361h1v1h-1zM289 360h1v1h-1zM290 360h1v1h-1zM291 359h1v1h-1zM292 358h1v1h-1zM293 358h1v1h-1zM294 357h1v1h-1zM295 357h1v1h-1zM296 356h1v1h-1zM297 356h1v1h-1zM298 355h1v1h-1zM299 354h1v1h-1zM300 354h1v1h-1zM301 353h1v1h-1zM302 353h1v1h-1zM303 352h1v1h-1zM304 352h1v1h-1zM305 351h1v1h-1zM306 350h1v1h-1zM307 350h1v1h-1zM308 349h1v1h-1zM309 349h1v1h-1zM310 348h1v1h-1zM311 347h1v1h-1zM312 347h1v1h-1zM313 346h1v1h-1zM314 346h1v1h-1zM315 345h1v1h-1zM316 345h1v1h-1zM317 344h1v1h-1zM318 343h1v1h-1zM319 343h1v1h-1zM320 342h1v1h-1zM321 342h1v1h-1zM322 341h1v1h-1zM323 340h1v1h-1zM324 340h1v1h-1zM325 339h1v1h-1zM326 339h1v1h-1zM327 338h1v1h-1zM328 338h1v1h-1zM329 337h1v1h-1zM330 336h1v1h-1zM331 336h1v1h-1zM332 335h1v1h-1zM333 335h1v1h-1zM334 334h1v1h-1zM335 333h1v1h-1zM336 333h1v1h-1zM337 332h1v1h-1zM338 332h1v1h-1zM339 331h1v1h-1zM340 331h1v1h-1zM341 330h1v1h-1zM342 329h1v1h-1zM343 329h1v1h-1zM344 328h1v1h-1zM345 328h1v1h-1zM346 327h1v1h-1zM347 326h1v1h-1zM348 326h1v1h-1zM349 325h1v1h-1zM350 325h1v1h-1zM351 324h1v1h-1zM352 324h1v1h-1zM353 323h1v1h-1zM354 322h1v1h-1zM355 322h1v1h-1zM356 321h1v1h-1zM357 321h1v1h-1zM358 320h1v1h-1zM359 320h1v1h-1zM360 319h1v1h-1zM361 318h1v1h-1zM362 318h1v1h-1zM363 317h1v1h-1zM364 317h1v1h-1zM365 316h1v1h-1zM366 315h1v1h-1zM367 315h1v1h-1zM368 314h1v1h-1zM369 314h1v1h-1zM370 313h1v1h-1zM371 313h1v1h-1zM372 312h1v1h-1zM373 311h1v1h-1zM374 311h1v1h-1zM375 310h1v1h-1zM376 310h1v1h-1zM377 309h1v1h-1zM378 308h1v1h-1zM379 308h1v1h-1zM380 307h1v1h-1zM381 307h1v1h-1zM382 306h1v1h-1zM383 306h1v1h-1zM384 305h1v1h-1zM385 304h1v1h-1zM386 304h1v1h-1zM387 303h1v1h-1zM388 303h1v1h-1zM389 302h1v1h-1zM390 301h1v1h-1zM391 301h1v1h-1zM392 300h1v1h-1zM393 300h1v1h-1zM394 299h1v1h-1zM395 299h1v1h-1zM396 298h1v1h-1zM397 297h1v1h-1zM398 297h1v1h-1zM399 296h1v1h-1zM400 296h1v1h-1zM401 295h1v1h-1zM402 294h1v1h-1zM403 294h1v1h-1zM404 293h1v1h-1zM405 293h1v1h-1zM406 292h1v1h-1zM407 292h1v1h-1zM408 291h1v1h-1zM409 290h1v1h-1zM410 290h1v1h-1zM411 289h1v1h-1zM412 289h1v1h-1zM413 288h1v1h-1zM414 288h1v1h-1zM415 287h1v1h-1zM416 286h1v1h-1zM417 286h1v1h-1zM418 285h1v1h-1zM419 285h1v1h-1zM420 284h1v1h-1zM421 283h1v1h-1zM422 283h1v1h-1zM423 282h1v1h-1zM424 282h1v1h-1zM425 281h1v1h-1zM426 281h1v1h-1zM427 280h1v1h-1zM428 279h1v1h-1zM429 279h1v1h-1zM430 278h1v1h-1zM431 278h1v1h-1zM432 277h1v1h-1zM433 276h1v1h-1zM434 276h1v1h-1zM435 275h1v1h-1zM436 275h1v1h-1zM437 274h1v1h-1zM438 274h1v1h-1zM439 273h1v1h-1zM440 272h1v1h-1zM441 272h1v1h-1zM442 271h1v1h-1zM443 271h1v1h-1zM444 270h1v1h-1zM445 269h1v1h-1zM446 269h1v1h-1zM447 268h1v1h-1zM448 268h1v1h-1zM449 267h1v1h-1zM450 267h1v1h-1zM451 266h1v1h-1zM452 265h1v1h-1zM453 265h1v1h-1zM454 264h1v1h-1zM455 264h1v1h-1zM456 263h1v1h-1zM457 262h1v1h-1zM458 262h1v1h-1zM459 261h1v1h-1zM460 261h1v1h-1zM461 260h1v1h-1zM462 260h1v1h-1zM463 259h1v1h-1zM464 258h1v1h-1zM465 258h1v1h-1zM466 257h1v1h-1zM467 257h1v1h-1zM468 256h1v1h-1zM469 256h1v1h-1zM470 255h1v1h-1zM471 254h1v1h-1zM472 254h1v1h-1zM473 253h1v1h-1zM474 253h1v1h-1zM475 252h1v1h-1zM476 251h1v1h-1zM477 251h1v1h-1zM478 250h1v1h-1zM479 250h1v1h-1zM480 249h1v1h-1zM481 249h1v1h-1zM482 248h1v1h-1zM483 247h1v1h-1zM484 247h1v1h-1zM485 246h1v1h-1zM486 246h1v1h-1zM487 245h1v1h-1zM488 244h1v1h-1zM489 244h1v1h-1zM490 243h1v1h-1zM491 243h1v1h-1zM492 242h1v1h-1zM493 242h1v1h-1zM494 241h1v1h-1zM495 240h1v1h-1zM496 240h1v1h-1zM497 239h1v1h-1zM498 239h1v1h-1zM499 238h1v1h-1zM500 237h1v1h-1zM501 237h1v1h-1zM502 236h1v1h-1zM503 236h1v1h-1zM504 235h1v1h-1zM505 235h1v1h-1zM506 234h1v1h-1zM507 233h1v1h-1zM508 233h1v1h-1zM509 232h1v1h-1zM510 232h1v1h-1zM511 231h1v1h-1zM512 230h1v1h-1zM513 230h1v1h-1zM514 229h1v1h-1zM515 229h1v1h-1zM516 228h1v1h-1zM517 228h1v1h-1zM518 227h1v1h-1zM519 226h1v1h-1zM520 226h1v1h-1zM521 225h1v1h-1zM522 225h1v1h-1zM523 224h1v1h-1zM524 224h1v1h-1zM525 223h1v1h-1zM526 222h1v1h-1zM527 222h1v1h-1zM528 221h1v1h-1zM529 221h1v1h-1zM530 220h1v1h-1zM531 219h1v1h-1zM532 219h1v1h-1zM533 218h1v1h-1zM534 218h1v1h-1zM535 217h1v1h-1zM536 217h1v1h-1zM537 216h1v1h-1zM538 215h1v1h-1zM539 215h1v1h-1zM540 214h1v1h-1zM541 214h1v1h-1zM542 213h1v1h-1zM543 212h1v1h-1zM544 212h1v1h-1zM545 211h1v1h-1zM546 211h1v1h-1zM547 210h1v1h-1zM548 210h1v1h-1zM549 209h1v1h-1zM550 208h1v1h-1zM551 208h1v1h-1zM552 207h1v1h-1zM553 207h1v1h-1zM554 206h1v1h-1zM555 205h1v1h-1zM556 205h1v1h-1zM557 204h1v1h-1zM558 204h1v1h-1zM559 203h1v1h-1zM560 203h1v1h-1zM561 202h1v1h-1zM562 201h1v1h-1zM563 201h1v1h-1zM564 200h1v1h-1zM565 200h1v1h-1zM566 199h1v1h-1zM567 198h1v1h-1zM568 198h1v1h-1zM569 197h1v1h-1zM570 197h1v1h-1zM571 196h1v1h-1zM572 196h1v1h-1zM573 195h1v1h-1zM574 194h1v1h-1zM575 194h1v1h-1zM576 193h1v1h-1zM577 193h1v1h-1zM578 192h1v1h-1zM579 192h1v1h-1zM580 191h1v1h-1zM581 190h1v1h-1zM582 190h1v1h-1zM583 189h1v1h-1zM584 189h1v1h-1zM585 188h1v1h-1zM586 187h1v1h-1zM587 187h1v1h-1zM588 186h1v1h-1zM589 186h1v1h-1zM590 185h1v1h-1zM591 185h1v1h-1zM592 184h1v1h-1zM593 183h1v1h-1zM594 183h1v1h-1zM595 182h1v1h-1zM596 182h1v1h-1zM597 181h1v1h-1zM598 180h1v1h-1zM599 180h1v1h-1zM600 179h1v1h-1zM601 179h1v1h-1zM602 178h1v1h-1zM603 178h1v1h-1zM604 177h1v1h-1zM605 176h1v1h-1zM606 176h1v1h-1zM607 175h1v1h-1zM608 175h1v1h-1zM609 174h1v1h-1zM610 173h1v1h-1zM611 173h1v1h-1zM612 172h1v1h-1zM613 172h1v1h-1zM614 171h1v1h-1zM615 171h1v1h-1zM616 170h1v1h-1zM617 169h1v1h-1zM618 169h1v1h-1zM619 168h1v1h-1zM620 168h1v1h-1zM621 167h1v1h-1zM622 166h1v1h-1zM623 166h1v1h-1zM624 165h1v1h-1zM625 165h1v1h-1zM626 164h1v1h-1zM627 164h1v1h-1zM628 163h1v1h-1zM629 162h1v1h-1zM630 162h1v1h-1zM631 161h1v1h-1zM632 161h1v1h-1zM633 160h1v1h-1zM634 160h1v1h-1zM635 159h1v1h-1zM636 158h1v1h-1zM637 158h1v1h-1zM638 157h1v1h-1zM639 157h1v1h-1zM640 156h1v1h-1zM641 155h1v1h-1zM642 155h1v1h-1zM643 154h1v1h-1zM644 154h1v1h-1zM645 153h1v1h-1zM646 153h1v1h-1zM647 152h1v1h-1zM648 151h1v1h-1zM649 151h1v1h-1zM650 150h1v1h-1zM651 150h1v1h-1zM652 149h1v1h-1zM653 148h1v1h-1zM654 148h1v1h-1zM655 147h1v1h-1zM656 147h1v1h-1zM657 146h1v1h-1zM658 146h1v1h-1zM659 145h1v1h-1zM660 144h1v1h-1zM661 144h1v1h-1zM662 143h1v1h-1zM663 143h1v1h-1zM664 142h1v1h-1zM665 141h1v1h-1zM666 141h1v1h-1zM667 140h1v1h-1zM668 140h1v1h-1zM669 139h1v1h-1zM670 139h1v1h-1zM671 138h1v1h-1zM672 137h1v1h-1zM673 137h1v1h-1zM674 136h1v1h-1zM675 136h1v1h-1zM676 135h1v1h-1zM677 135h1v1h-1zM678 134h1v1h-1zM679 133h1v1h-1zM680 133h1v1h-1zM681 132h1v1h-1zM682 132h1v1h-1zM683 131h1v1h-1zM684 130h1v1h-1zM685 130h1v1h-1zM686 129h1v1h-1zM687 129h1v1h-1zM688 128h1v1h-1zM689 128h1v1h-1zM690 127h1v1h-1zM691 126h1v1h-1zM692 126h1v1h-1zM693 125h1v1h-1zM694 125h1v1h-1zM695 124h1v1h-1zM696 123h1v1h-1zM697 123h1v1h-1zM698 122h1v1h-1zM699 122h1v1h-1zM700 121h1v1h-1zM701 121h1v1h-1zM702 120h1v1h-1zM703 119h1v1h-1zM704 119h1v1h-1zM705 118h1v1h-1zM706 118h1v1h-1zM707 117h1v1h-1zM708 116h1v1h-1zM709 116h1v1h-1zM710 115h1v1h-1zM711 115h1v1h-1zM712 114h1v1h-1zM713 114h1v1h-1zM714 113h1v1h-1zM715 112h1v1h-1zM716 112h1v1h-1zM717 111h1v1h-1zM718 111h1v1h-1zM719 110h1v1h-1zM720 109h1v1h-1zM721 109h1v1h-1zM722 108h1v1h-1zM723 108h1v1h-1zM724 107h1v1h-1zM725 107h1v1h-1zM726 106h1v1h-1zM727 105h1v1h-1zM728 105h1v1h-1zM729 104h1v1h-1zM730 104h1v1h-1zM731 103h1v1h-1zM732 103h1v1h-1zM733 102h1v1h-1zM734 101h1v1h-1zM735 101h1v1h-1zM736 100h1v1h-1zM737 100h1v1h-1zM738 99h1v1h-1zM739 98h1v1h-1zM740 98h1v1h-1zM741 97h1v1h-1zM742 97h1v1h-1zM743 96h1v1h-1zM744 96h1v1h-1zM745 95h1v1h-1zM746 94h1v1h-1zM747 94h1v1h-1zM748 93h1v1h-1zM749 93h1v1h-1zM750 92h1v1h-1zM751 91h1v1h-1zM752 91h1v1h-1zM753 90h1v1h-1zM754 90h1v1h-1zM755 89h1v1h-1zM756 89h1v1h-1zM757 88h1v1h-1zM758 87h1v1h-1zM759 87h1v1h-1zM760 86h1v1h-1zM761 86h1v1h-1zM762 85h1v1h-1zM763 84h1v1h-1zM764 84h1v1h-1zM765 83h1v1h-1zM766 83h1v1h-1zM767 82h1v1h-1zM768 82h1v1h-1zM769 81h1v1h-1zM770 80h1v1h-1zM771 80h1v1h-1zM772 79h1v1h-1zM773 79h1v1h-1zM774 78h1v1h-1zM775 77h1v1h-1zM776 77h1v1h-1zM777 76h1v1h-1zM778 76h1v1h-1zM779 75h1v1h-1zM780 75h1v1h-1zM781 74h1v1h-1zM782 73h1v1h-1zM783 73h1v1h-1zM784 72h1v1h-1zM785 72h1v1h-1zM786 71h1v1h-1zM787 71h1v1h-1zM788 70h1v1h-1zM789 69h1v1h-1zM790 69h1v1h-1zM791 68h1v1h-1zM792 68h1v1h-1zM793 67h1v1h-1zM794 66h1v1h-1zM795 66h1v1h-1zM796 65h1v1h-1zM797 65h1v1h-1zM798 64h1v1h-1zM799 64h1v1h-1zM800 63h1v1h-1zM801 62h1v1h-1zM802 62h1v1h-1zM803 61h1v1h-1zM804 61h1v1h-1zM805 60h1v1h-1zM806 59h1v1h-1zM807 59h1v1h-1zM808 58h1v1h-1zM809 58h1v1h-1zM810 57h1v1h-1zM811 57h1v1h-1zM812 56h1v1h-1zM813 55h1v1h-1zM814 55h1v1h-1zM815 54h1v1h-1zM816 54h1v1h-1zM817 53h1v1h-1zM818 52h1v1h-1zM819 52h1v1h-1zM820 51h1v1h-1zM821 51h1v1h-1zM822 50h1v1h-1zM823 50h1v1h-1zM824 49h1v1h-1zM825 48h1v1h-1zM826 48h1v1h-1zM827 47h1v1h-1zM828 47h1v1h-1zM829 46h1v1h-1zM830 45h1v1h-1zM831 45h1v1h-1zM832 44h1v1h-1zM833 44h1v1h-1zM834 43h1v1h-1zM835 43h1v1h-1zM836 42h1v1h-1zM837 41h1v1h-1zM838 41h1v1h-1zM839 40h1v1h-1zM840 40h1v1h-1zM841 39h1v1h-1zM842 39h1v1h-1zM843 38h1v1h-1zM844 37h1v1h-1zM845 37h1v1h-1zM846 36h1v1h-1zM847 36h1v1h-1zM848 35h1v1h-1zM849 34h1v1h-1zM850 34h1v1h-1zM851 33h1v1h-1zM852 33h1v1h-1zM853 32h1v1h-1zM854 32h1v1h-1zM855 31h1v1h-1zM856 30h1v1h-1zM857 30h1v1h-1zM858 29h1v1h-1zM859 29h1v1h-1zM860 28h1v1h-1zM861 27h1v1h-1zM862 27h1v1h-1zM863 26h1v1h-1zM864 26h1v1h-1zM865 25h1v1h-1zM866 25h1v1h-1zM867 24h1v1h-1zM868 23h1v1h-1zM869 23h1v1h-1zM870 22h1v1h-1zM871 22h1v1h-1zM872 21h1v1h-1zM873 20h1v1h-1zM874 20h1v1h-1zM875 19h1v1h-1zM876 19h1v1h-1zM877 18h1v1h-1zM878 18h1v1h-1zM879 17h1v1h-1zM880 16h1v1h-1zM881 16h1v1h-1zM882 15h1v1h-1zM883 15h1v1h-1zM884 14h1v1h-1zM885 13h1v1h-1zM886 13h1v1h-1zM887 12h1v1h-1zM888 12h1v1h-1zM889 11h1v1h-1zM890 11h1v1h-1zM891 10h1v1h-1zM699 9h1v1h-1zM700 10h1v1h-1zM701 11h1v1h-1zM702 12h1v1h-1zM703 13h1v1h-1zM704 14h1v1h-1zM705 15h1v1h-1zM706 16h1v1h-1zM707 17h1v1h-1zM708 18h1v1h-1zM709 19h1v1h-1zM710 20h1v1h-1zM711 20h1v1h-1zM712 21h1v1h-1zM713 22h1v1h-1zM714 23h1v1h-1zM715 24h1v1h-1zM716 25h1v1h-1zM717 26h1v1h-1zM718 27h1v1h-1zM719 28h1v1h-1zM720 29h1v1h-1zM721 30h1v1h-1zM722 31h1v1h-1zM723 32h1v1h-1zM724 33h1v1h-1zM725 34h1v1h-1zM726 35h1v1h-1zM727 36h1v1h-1zM728 37h1v1h-1zM729 38h1v1h-1zM730 39h1v1h-1zM731 40h1v1h-1zM732 41h1v1h-1zM733 42h1v1h-1zM734 42h1v1h-1zM735 43h1v1h-1zM736 44h1v1h-1zM737 45h1v1h-1zM738 46h1v1h-1zM739 47h1v1h-1zM740 48h1v1h-1zM741 49h1v1h-1zM742 50h1v1h-1zM743 51h1v1h-1zM744 52h1v1h-1zM745 53h1v1h-1zM746 54h1v1h-1zM747 55h1v1h-1zM748 56h1v1h-1zM749 57h1v1h-1zM750 58h1v1h-1zM751 59h1v1h-1zM752 60h1v1h-1zM753 61h1v1h-1zM754 62h1v1h-1zM755 63h1v1h-1zM756 64h1v1h-1zM757 65h1v1h-1zM758 65h1v1h-1zM759 66h1v1h-1zM760 67h1v1h-1zM761 68h1v1h-1zM762 69h1v1h-1zM763 70h1v1h-1zM764 71h1v1h-1zM765 72h1v1h-1zM766 73h1v1h-1zM767 74h1v1h-1zM768 75h1v1h-1zM769 76h1v1h-1zM770 77h1v1h-1zM771 78h1v1h-1zM772 79h1v1h-1zM773 80h1v1h-1zM774 81h1v1h-1zM775 82h1v1h-1zM776 83h1v1h-1zM777 84h1v1h-1zM778 85h1v1h-1zM779 86h1v1h-1zM780 87h1v1h-1zM781 87h1v1h-1zM782 88h1v1h-1zM783 89h1v1h-1zM784 90h1v1h-1zM785 91h1v1h-1zM786 92h1v1h-1zM787 93h1v1h-1zM788 94h1v1h-1zM789 95h1v1h-1zM790 96h1v1h-1zM791 97h1v1h-1zM792 98h1v1h-1zM793 99h1v1h-1zM794 100h1v1h-1zM795 101h1v1h-1zM796 102h1v1h-1zM797 103h1v1h-1zM798 104h1v1h-1zM799 105h1v1h-1zM800 106h1v1h-1zM801 107h1v1h-1zM802 108h1v1h-1zM803 109h1v1h-1zM804 110h1v1h-1zM805 110h1v1h-1zM806 111h1v1h-1zM807 112h1v1h-1zM808 113h1v1h-1zM809 114h1v1h-1zM810 115h1v1h-1zM811 116h1v1h-1zM812 117h1v1h-1zM813 118h1v1h-1zM814 119h1v1h-1zM815 120h1v1h-1zM816 121h1v1h-1zM817 122h1v1h-1zM818 123h1v1h-1zM819 124h1v1h-1zM820 125h1v1h-1zM821 126h1v1h-1zM822 127h1v1h-1zM823 128h1v1h-1zM824 129h1v1h-1zM825 130h1v1h-1zM826 131h1v1h-1zM827 132h1v1h-1zM828 132h1v1h-1zM829 133h1v1h-1zM830 134h1v1h-1zM831 135h1v1h-1zM832 136h1v1h-1zM833 137h1v1h-1zM834 138h1v1h-1zM835 139h1v1h-1zM836 140h1v1h-1zM837 141h1v1h-1zM838 142h1v1h-1zM839 143h1v1h-1zM840 144h1v1h-1zM841 145h1v1h-1zM842 146h1v1h-1zM843 147h1v1h-1zM844 148h1v1h-1zM845 149h1v1h-1zM846 150h1v1h-1zM847 151h1v1h-1zM848 152h1v1h-1zM849 153h1v1h-1zM850 154h1v1h-1zM851 154h1v1h-1zM852 155h1v1h-1zM853 156h1v1h-1zM854 157h1v1h-1zM855 158h1v1h-1zM856 159h1v1h-1zM857 160h1v1h-1zM858 161h1v1h-1zM859 162h1v1h-1zM860 163h1v1h-1zM861 164h1v1h-1zM862 165h1v1h-1zM863 166h1v1h-1zM864 167h1v1h-1zM865 168h1v1h-1zM866 169h1v1h-1zM867 170h1v1h-1zM868 171h1v1h-1zM869 172h1v1h-1zM870 173h1v1h-1zM871 174h1v1h-1zM872 175h1v1h-1zM873 176h1v1h-1zM874 176h1v1h-1zM875 177h1v1h-1zM876 178h1v1h-1zM877 179h1v1h-1zM878 180h1v1h-1zM879 181h1v1h-1zM880 182h1v1h-1zM881 183h1v1h-1zM882 184h1v1h-1zM883 185h1v1h-1zM884 186h1v1h-1zM885 187h1v1h-1zM886 188h1v1h-1zM887 189h1v1h-1zM888 190h1v1h-1zM889 191h1v1h-1zM890 192h1v1h-1zM891 193h1v1h-1zM892 194h1v1h-1zM893 195h1v1h-1zM894 196h1v1h-1zM895 197h1v1h-1zM896 198h1v1h-1zM897 199h1v1h-1zM898 199h1v1h-1zM899 200h1v1h-1zM900 201h1v1h-1zM901 202h1v1h-1zM902 203h1v1h-1zM903 204h1v1h-1zM904 205h1v1h-1zM905 206h1v1h-1zM906 207h1v1h-1zM907 208h1v1h-1zM908 209h1v1h-1zM909 210h1v1h-1zM910 211h1v1h-1zM911 212h1v1h-1zM912 213h1v1h-1zM913 214h1v1h-1zM914 215h1v1h-1zM915 216h1v1h-1zM916 217h1v1h-1zM917 218h1v1h-1zM918 219h1v1h-1zM919 220h1v1h-1zM920 221h1v1h-1zM921 221h1v1h-1zM922 222h1v1h-1zM923 223h1v1h-1zM924 224h1v1h-1zM925 225h1v1h-1zM926 226h1v1h-1zM927 227h1v1h-1zM928 228h1v1h-1zM929 229h1v1h-1zM930 230h1v1h-1zM931 231h1v1h-1zM932 232h1v1h-1zM933 233h1v1h-1zM934 234h1v1h-1zM935 235h1v1h-1zM936 236h1v1h-1zM937 237h1v1h-1zM938 238h1v1h-1zM939 239h1v1h-1zM940 240h1v1h-1zM941 241h1v1h-1zM942 242h1v1h-1zM943 243h1v1h-1zM944 244h1v1h-1zM945 244h1v1h-1zM946 245h1v1h-1zM947 246h1v1h-1zM948 247h1v1h-1zM949 248h1v1h-1zM950 249h1v1h-1zM951 250h1v1h-1zM952 251h1v1h-1zM953 252h1v1h-1zM954 253h1v1h-1zM955 254h1v1h-1zM956 255h1v1h-1zM957 256h1v1h-1zM958 257h1v1h-1zM959 258h1v1h-1zM960 259h1v1h-1zM961 260h1v1h-1zM962 261h1v1h-1zM963 262h1v1h-1zM964 263h1v1h-1zM965 264h1v1h-1zM966 265h1v1h-1zM967 266h1v1h-1zM968 266h1v1h-1zM969 267h1v1h-1zM970 268h1v1h-1zM971 269h1v1h-1zM972 270h1v1h-1zM973 271h1v1h-1zM974 272h1v1h-1zM975 273h1v1h-1zM976 274h1v1h-1zM977 275h1v1h-1zM978 276h1v1h-1zM979 277h1v1h-1zM980 278h1v1h-1zM981 279h1v1h-1zM982 280h1v1h-1zM983 281h1v1h-1zM984 282h1v1h-1zM985 283h1v1h-1zM986 284h1v1h-1zM987 285h1v1h-1zM988 286h1v1h-1zM989 287h1v1h-1zM990 288h1v1h-1zM991 288h1v1h-1zM992 289h1v1h-1zM993 290h1v1h-1zM994 291h1v1h-1zM995 292h1v1h-1zM996 293h1v1h-1zM997 294h1v1h-1zM998 295h1v1h-1zM999 296h1v1h-1zM1000 297h1v1h-1zM1001 298h1v1h-1zM1002 299h1v1h-1zM1003 300h1v1h-1zM1004 301h1v1h-1zM1005 302h1v1h-1zM1006 303h1v1h-1zM1007 304h1v1h-1zM1008 305h1v1h-1zM1009 306h1v1h-1zM1010 307h1v1h-1zM1011 308h1v1h-1zM1012 309h1v1h-1zM1013 310h1v1h-1zM1014 310h1v1h-1zM1015 311h1v1h-1zM1016 312h1v1h-1zM1017 313h1v1h-1zM1018 314h1v1h-1zM1019 315h1v1h-1zM1020 316h1v1h-1zM1021 317h1v1h-1zM1022 318h1v1h-1zM1023 319h1v1h-1zM1024 320h1v1h-1zM1025 321h1v1h-1zM1026 322h1v1h-1zM1027 323h1v1h-1zM1028 324h1v1h-1zM1029 325h1v1h-1zM1030 326h1v1h-1zM1031 327h1v1h-1zM1032 328h1v1h-1zM1033 329h1v1h-1zM1034 330h1v1h-1zM1035 331h1v1h-1zM1036 332h1v1h-1zM1037 333h1v1h-1zM1038 333h1v1h-1zM1039 334h1v1h-1zM1040 335h1v1h-1zM1041 336h1v1h-1zM1042 337h1v1h-1zM1043 338h1v1h-1zM1044 339h1v1h-1zM1045 340h1v1h-1zM1046 341h1v1h-1zM1047 342h1v1h-1zM1048 343h1v1h-1zM1049 344h1v1h-1z" fill="#FF0000" shape-rendering="crispEdges"/>
<g shape-rendering="crispEdges">
<rect x="351" y="321" width="5" height="5" fill="#FF0000"/><rect x="352" y="322" width="3" height="3" fill="#fff"/>
<rect x="889" y="8" width="5" height="5" fill="#FF0000"/><rect x="890" y="9" width="3" height="3" fill="#fff"/>
<rect x="697" y="7" width="5" height="5" fill="#FF0000"/><rect x="698" y="8" width="3" height="3" fill="#fff"/>
<rect x="872" y="174" width="5" height="5" fill="#FF0000"/><rect x="873" y="175" width="3" height="3" fill="#fff"/>
<rect x="1047" y="342" width="5" height="5" fill="#FF0000"/><rect x="1048" y="343" width="3" height="3" fill="#fff"/>
<rect x="1110" y="53" width="41" height="1" fill="#FF0000"/>
<rect x="1110" y="69" width="41" height="1" fill="#FF0000"/>
<rect x="1169" y="29" width="1" height="300" fill="#32CD32"/>
<rect x="1168" y="69" width="2" height="107" fill="#32CD32"/>
</g>
<g clip-path="url(#cs)" fill="none" stroke-width="2" stroke-linecap="round" shape-rendering="crispEdges">
<path d="M11.0 568.5L13.0 582.6M13.0 582.6L15.0 628.2M24.0 586.7L25.0 621.0M25.0 621.0L29.3 622.0M29.3 622.0L30.8 651.5M37.4 613.0L39.5 649.4M39.5 649.4L41.0 666.6M43.0 597.8L44.5 620.0M47.2 597.8L48.6 613.0M53.2 566.0L54.6 576.6M54.6 576.6L57.3 598.8M59.3 597.8L61.7 605.9M61.7 605.9L64.4 611.0M71.4 584.7L73.3 596.8M73.3 596.8L75.9 611.0M75.9 611.0L77.9 629.2M77.9 629.2L80.0 649.4M80.0 649.4L81.4 668.7M83.0 620.0L84.0 645.4M84.0 645.4L85.4 669.7M85.4 669.7L87.4 675.8M91.0 665.7L93.0 681.0M93.0 681.0L94.7 694.0M97.8 683.0L99.2 687.0M105.4 645.5L106.8 667.2M110.8 647.5L112.3 677.0M112.3 677.0L112.9 702.2M122.9 561.4L124.0 584.7M124.0 584.7L125.5 609.0M128.9 592.8L130.5 609.0M130.5 609.0L133.0 612.0M135.2 577.6L137.6 596.8M137.6 596.8L139.6 603.9M139.6 603.9L142.7 604.9M142.7 604.9L145.3 616.0M149.4 604.9L150.8 633.2M150.8 633.2L152.8 657.5M152.8 657.5L155.2 666.6M157.3 643.4L158.9 647.4M164.9 610.0L167.0 615.0M167.0 615.0L169.0 628.2M174.7 580.6L176.7 598.8M179.3 571.5L180.7 596.8M180.7 596.8L183.2 632.2M187.8 600.9L191.3 603.9M191.3 603.9L193.3 647.4M196.7 599.8L198.9 605.9M201.4 603.9L203.0 609.0M207.4 561.4L209.5 588.7M209.5 588.7L210.9 623.0M210.9 623.0L212.5 653.5M212.5 653.5L213.5 674.7M215.0 625.0L216.5 629.2M216.5 629.2L218.6 645.4M218.6 645.4L220.6 654.5M224.7 600.9L226.7 609.0M226.7 609.0L229.0 627.2M233.3 591.8L234.8 625.0M234.8 625.0L236.4 661.6M236.4 661.6L237.2 683.0M237.2 683.0L238.4 683.0M247.3 575.6L249.3 596.8M249.3 596.8L251.0 603.9M251.0 603.9L254.0 605.9M254.0 605.9L256.0 615.0M256.0 615.0L258.0 631.2M258.0 631.2L260.0 653.5M260.0 653.5L263.0 668.7M267.6 632.2L269.6 632.2M269.6 632.2L271.2 644.4M271.2 644.4L273.6 647.4M275.2 604.9L276.2 649.4M276.2 649.4L276.9 704.2M279.9 658.7L281.9 658.7M281.9 658.7L282.9 695.0M290.0 625.0L292.0 625.0M292.0 625.0L293.0 653.5M293.0 653.5L295.0 677.0M295.0 677.0L297.0 686.0M298.6 665.8L300.8 669.8M302.7 664.8L304.9 686.0M307.3 681.0L309.3 683.0M323.0 592.4L325.5 602.9M325.5 602.9L328.6 613.0M328.6 613.0L330.6 625.0M330.6 625.0L333.0 645.4M337.0 543.2L338.3 543.2M338.3 543.2L339.0 598.8M339.0 598.8L340.7 620.0M343.0 616.0L345.2 620.0M346.8 613.0L348.8 617.0M350.8 603.9L352.3 604.9M352.3 604.9L353.3 625.0M353.3 625.0L354.9 645.4M354.9 645.4L356.5 667.0M356.5 667.0L357.5 682.0M357.5 682.0L359.3 682.0M359.3 682.0L361.0 709.3M369.0 661.6L372.0 663.6M377.0 548.2L378.0 548.2M378.0 548.2L379.2 586.7M379.2 586.7L380.6 628.2M382.8 617.0L384.2 631.2M384.2 631.2L385.2 649.4M387.3 645.4L388.5 660.0M388.5 660.0L389.3 685.0M395.0 576.6L396.4 580.6M396.4 580.6L397.0 622.0M397.0 622.0L399.4 625.0M399.4 625.0L402.4 633.2M402.4 633.2L405.0 641.3M405.0 641.3L407.0 644.4M411.0 589.7L412.6 607.0M417.2 601.9L419.6 611.0M419.6 611.0L421.7 617.0M421.7 617.0L423.3 617.0M425.0 585.7L427.3 592.8M429.4 592.4L431.4 607.0M431.4 607.0L433.8 618.0M433.8 618.0L435.8 623.0M435.8 623.0L437.5 639.3M441.0 576.6L442.0 576.6M442.0 576.6L442.5 613.0M442.5 613.0L444.0 633.2M444.0 633.2L445.0 644.4M447.0 636.3L449.0 640.3M451.0 639.3L452.0 655.5M452.0 655.5L453.4 671.7M459.7 603.3L461.5 604.5M461.5 604.5L463.2 623.0M463.2 623.0L464.2 645.4M464.2 645.4L465.2 662.6M467.2 653.5L469.2 653.5M469.2 653.5L470.2 669.8M470.2 669.8L472.3 689.0M472.3 689.0L473.3 705.2M475.3 699.2L476.9 724.5M483.0 666.7L484.8 677.9M501.0 608.0L502.0 608.0M502.0 608.0L502.6 649.4M502.6 649.4L503.2 680.0M510.7 535.7L512.0 535.7M512.0 535.7L513.0 570.5M513.0 570.5L515.2 590.7M515.2 590.7L516.8 613.0M516.8 613.0L519.2 624.0M519.2 624.0L521.9 628.2M521.9 628.2L524.9 634.3M524.9 634.3L526.9 640.3M531.4 608.0L533.6 609.0M533.6 609.0L535.0 625.0M535.0 625.0L536.4 653.5M536.4 653.5L537.3 681.0M537.3 681.0L539.0 694.0M541.0 673.8L543.0 673.8M543.0 673.8L545.3 680.5M553.0 669.8L554.5 680.0M558.3 669.7L559.7 690.0M569.0 662.6L570.0 680.0M570.0 680.0L571.0 693.0M571.0 693.0L573.0 702.2M580.8 576.6L582.3 577.6M582.3 577.6L584.3 594.8M584.3 594.8L585.3 611.0M585.3 611.0L587.3 631.2M587.3 631.2L589.3 638.3M591.0 632.2L592.4 647.4M592.4 647.4L593.0 660.6M595.4 656.5L596.2 680.0M596.2 680.0L597.4 702.2M607.0 583.7L608.2 584.7M608.2 584.7L609.0 620.0M609.0 620.0L611.6 629.2M611.6 629.2L613.6 645.4M613.6 645.4L615.7 657.5M615.7 657.5L616.8 680.0M616.8 680.0L617.7 697.0M626.8 583.7L628.4 583.7M628.4 583.7L628.8 600.9M630.8 545.8L632.3 545.8M632.3 545.8L632.9 571.5M632.9 571.5L633.9 596.8M633.9 596.8L634.9 613.0M634.9 613.0L636.9 625.0M636.9 625.0L640.0 629.2M640.0 629.2L643.0 635.3M646.6 590.7L648.6 591.8M648.6 591.8L651.0 601.9M651.0 601.9L653.7 605.9M653.7 605.9L655.7 611.0M655.7 611.0L657.0 629.2M658.8 616.0L660.2 617.0M660.2 617.0L661.2 641.3M661.2 641.3L663.2 672.0M663.2 672.0L665.2 704.2M669.3 650.4L671.0 655.5M672.7 593.8L675.4 595.8M677.0 581.0L678.4 581.6M678.4 581.6L679.0 604.9M679.0 604.9L679.8 625.0M681.4 622.0L682.4 635.3M682.4 635.3L683.9 651.5M683.9 651.5L685.5 655.5M685.5 655.5L687.0 674.8M691.0 627.2L692.2 627.2M692.2 627.2L693.2 637.3M693.2 637.3L695.6 643.4M695.6 643.4L697.2 665.6M697.2 665.6L697.8 681.0M699.0 653.5L701.0 655.5M705.3 604.9L706.7 622.0M709.2 581.6L710.4 582.2M710.4 582.2L711.4 609.0M711.4 609.0L712.2 639.3M712.2 639.3L713.4 671.7M718.9 641.3L720.9 643.4M720.9 643.4L722.9 659.6M722.9 659.6L724.3 675.7M724.3 675.7L725.3 677.0M731.0 649.4L732.6 661.6M732.6 661.6L735.0 665.6M739.0 593.8L740.7 602.9M740.7 602.9L742.0 609.0M742.0 609.0L742.8 649.4M742.8 649.4L743.4 673.0M743.4 673.0L745.2 697.0M745.2 697.0L747.2 727.9M756.9 626.2L758.3 633.2M763.0 601.3L764.4 613.0M764.4 613.0L765.0 637.3M766.0 621.0L767.8 623.0M767.8 623.0L769.5 643.4M773.0 592.4L774.5 605.9M774.5 605.9L776.6 623.0M776.6 623.0L779.6 639.3M779.6 639.3L780.4 670.0M780.4 670.0L781.2 691.0M783.2 688.0L785.0 699.2M797.2 614.0L798.4 629.2M798.4 629.2L799.4 646.4M801.2 639.3L803.9 649.4M803.9 649.4L806.5 661.6M806.5 661.6L808.5 671.7M811.0 632.2L812.0 649.4M812.0 649.4L813.2 675.0M813.2 675.0L814.6 713.3M814.6 713.3L815.4 730.0M821.0 665.7L822.5 679.0M822.5 679.0L825.0 689.0M833.6 592.8L835.9 592.8M835.9 592.8L837.3 617.0M837.3 617.0L838.3 633.2M838.3 633.2L838.9 652.5M840.3 617.0L841.9 618.0M841.9 618.0L842.6 637.3M844.5 620.0L845.7 620.0M845.7 620.0L846.5 649.4M846.5 649.4L847.5 668.7M851.5 594.8L853.2 598.8M853.2 598.8L855.2 615.0M855.2 615.0L856.6 637.3M856.6 637.3L857.4 686.0M861.3 659.6L862.7 661.6M864.7 649.4L866.3 650.4M866.3 650.4L867.3 663.6M871.4 587.7L872.4 588.7M872.4 588.7L873.4 604.9M874.8 591.8L876.4 598.8M876.4 598.8L877.8 607.0M877.8 607.0L879.0 616.0M881.0 580.6L882.5 581.6M882.5 581.6L883.5 593.8M883.5 593.8L885.5 597.8M885.5 597.8L887.6 613.0M887.6 613.0L890.2 621.0M890.2 621.0L892.2 633.2M892.2 633.2L893.6 645.4M893.6 645.4L894.6 666.8M894.6 666.8L896.3 697.0M896.3 697.0L897.3 713.0M901.0 660.7L902.5 675.0M902.5 675.0L903.8 678.8M905.5 675.5L907.0 681.0M909.2 676.5L910.4 697.0M910.4 697.0L911.2 707.3M917.5 650.8L919.5 651.0M919.5 651.0L921.4 661.6M925.0 654.5L927.0 661.6M927.0 661.6L928.6 676.5M928.6 676.5L930.0 697.0M930.0 697.0L931.0 718.0M937.0 661.6L938.8 671.7M944.6 583.7L946.3 584.7M946.3 584.7L947.3 604.9M947.3 604.9L950.3 617.0M950.3 617.0L952.3 627.2M952.3 627.2L954.0 635.3M954.0 635.3L955.4 661.6M955.4 661.6L957.4 665.6M959.0 625.0L960.0 625.0M960.0 625.0L960.4 665.6M960.4 665.6L962.0 665.6M962.9 651.5L963.7 652.6M963.7 652.6L964.2 681.0M964.2 681.0L965.0 714.3M969.0 685.0L971.0 689.0M972.7 655.0L975.2 657.5M983.0 567.9L984.3 567.9M984.3 567.9L985.0 592.8M986.7 586.7L987.7 588.7M987.7 588.7L989.8 601.9M991.8 600.9L993.4 609.0M993.4 609.0L995.8 631.2M995.8 631.2L997.5 659.6M999.3 655.5L1001.3 671.7M1005.0 609.0L1006.0 609.0M1006.0 609.0L1007.0 637.3M1011.0 590.7L1012.0 598.8M1012.0 598.8L1013.0 613.0M1015.0 608.0L1017.0 611.0M1017.0 611.0L1018.5 633.2M1018.5 633.2L1019.5 653.5M1023.2 596.8L1024.6 597.8M1024.6 597.8L1025.8 613.0M1025.8 613.0L1027.2 629.2M1029.2 621.0L1030.2 637.3M1030.2 637.3L1031.3 666.6M1034.9 623.0L1035.9 625.0M1035.9 625.0L1036.7 661.6M1039.4 627.2L1040.4 629.2M1040.4 629.2L1041.4 643.4M1041.4 643.4L1043.0 660.6M1044.8 643.4L1047.4 643.4M1047.4 643.4L1048.5 657.5M1048.5 657.5L1050.5 669.3M1050.5 669.3L1052.5 685.0M1052.5 685.0L1053.5 689.0M1060.2 562.4L1062.0 563.4M1062.0 563.4L1062.6 584.7M1062.6 584.7L1064.6 596.8M1064.6 596.8L1067.0 607.0M1067.0 607.0L1069.0 628.2M1074.8 583.7L1077.2 588.7M1077.2 588.7L1078.8 622.0M1085.3 588.7L1086.9 607.0M1093.4 593.8L1095.0 614.0M1095.0 614.0L1097.4 615.0M1097.4 615.0L1099.5 621.0M1099.5 621.0L1101.0 639.3M1102.7 592.8L1104.0 592.8M1104.0 592.8L1105.0 617.0M1105.0 617.0L1106.7 643.0M1106.7 643.0L1108.2 669.0M1108.2 669.0L1109.2 692.0" stroke="#DC143C"/>
<path d="M3.0 643.4L6.0 641.3M6.0 641.3L8.0 594.8M8.0 594.8L9.0 574.5M9.0 574.5L11.0 568.5M15.0 628.2L17.0 617.0M17.0 617.0L19.0 602.9M19.0 602.9L22.0 588.7M22.0 588.7L24.0 586.7M30.8 651.5L33.4 645.4M33.4 645.4L36.4 627.2M36.4 627.2L37.4 613.0M41.0 666.6L42.5 631.2M42.5 631.2L43.0 597.8M44.5 620.0L46.5 617.0M46.5 617.0L47.2 597.8M48.6 613.0L50.6 596.8M50.6 596.8L52.2 576.6M52.2 576.6L53.2 566.0M57.3 598.8L59.3 597.8M64.4 611.0L66.8 608.0M66.8 608.0L69.8 598.8M69.8 598.8L71.4 584.7M81.4 668.7L83.0 620.0M87.4 675.8L89.0 669.7M89.0 669.7L91.0 665.7M94.7 694.0L96.7 687.0M96.7 687.0L97.8 683.0M99.2 687.0L101.2 672.0M101.2 672.0L102.2 660.7M102.2 660.7L103.4 647.5M103.4 647.5L105.4 645.5M106.8 667.2L109.3 662.0M109.3 662.0L110.8 647.5M112.9 702.2L115.0 689.0M115.0 689.0L117.4 683.0M117.4 683.0L118.4 660.0M118.4 660.0L119.6 640.0M119.6 640.0L121.0 604.9M121.0 604.9L122.0 580.6M122.0 580.6L122.9 561.4M125.5 609.0L127.9 608.0M127.9 608.0L128.9 592.8M133.0 612.0L134.2 594.8M134.2 594.8L135.2 577.6M145.3 616.0L147.3 605.9M147.3 605.9L149.4 604.9M155.2 666.6L157.3 643.4M158.9 647.4L160.9 633.2M160.9 633.2L162.9 623.0M162.9 623.0L164.9 610.0M169.0 628.2L171.0 617.0M171.0 617.0L173.4 615.0M173.4 615.0L174.7 580.6M176.7 598.8L178.0 588.7M178.0 588.7L179.3 571.5M183.2 632.2L185.2 609.0M185.2 609.0L187.8 600.9M193.3 647.4L195.3 633.2M195.3 633.2L196.7 599.8M198.9 605.9L201.4 603.9M203.0 609.0L204.4 594.8M204.4 594.8L206.4 574.5M206.4 574.5L207.4 561.4M213.5 674.7L215.0 625.0M220.6 654.5L222.6 629.2M222.6 629.2L224.7 600.9M229.0 627.2L230.7 592.8M230.7 592.8L233.3 591.8M238.4 683.0L239.4 661.6M239.4 661.6L241.9 649.4M241.9 649.4L243.9 629.2M243.9 629.2L245.5 594.8M245.5 594.8L247.3 575.6M263.0 668.7L265.5 649.4M265.5 649.4L267.6 632.2M273.6 647.4L275.2 604.9M276.9 704.2L278.3 701.0M278.3 701.0L279.9 658.7M282.9 695.0L285.0 686.0M285.0 686.0L286.4 666.8M286.4 666.8L288.4 645.0M288.4 645.0L290.0 625.0M297.0 686.0L298.6 665.8M300.8 669.8L302.7 664.8M304.9 686.0L307.3 681.0M309.3 683.0L310.8 673.8M310.8 673.8L313.4 672.7M313.4 672.7L315.4 667.6M315.4 667.6L317.0 649.4M317.0 649.4L319.0 631.2M319.0 631.2L320.5 615.0M320.5 615.0L321.5 597.8M321.5 597.8L323.0 592.4M333.0 645.4L334.2 622.0M334.2 622.0L335.0 598.8M335.0 598.8L336.3 570.5M336.3 570.5L337.0 543.2M340.7 620.0L343.0 616.0M345.2 620.0L346.8 613.0M348.8 617.0L350.8 603.9M361.0 709.3L362.6 691.0M362.6 691.0L365.0 687.0M365.0 687.0L366.6 669.0M366.6 669.0L369.0 661.6M372.0 663.6L374.0 655.5M374.0 655.5L375.5 643.4M375.5 643.4L376.5 596.8M376.5 596.8L377.0 548.2M380.6 628.2L382.8 617.0M385.2 649.4L387.3 645.4M389.3 685.0L390.3 649.0M390.3 649.0L391.0 615.0M391.0 615.0L392.3 586.7M392.3 586.7L395.0 576.6M407.0 644.4L409.5 633.2M409.5 633.2L410.5 609.0M410.5 609.0L411.0 589.7M412.6 607.0L415.0 605.0M415.0 605.0L417.2 601.9M423.3 617.0L424.3 600.9M424.3 600.9L425.0 585.7M427.3 592.8L429.4 592.4M437.5 639.3L439.3 627.2M439.3 627.2L440.3 598.8M440.3 598.8L441.0 576.6M445.0 644.4L447.0 636.3M449.0 640.3L451.0 639.3M453.4 671.7L454.7 653.5M454.7 653.5L456.0 625.0M456.0 625.0L457.3 607.0M457.3 607.0L459.7 603.3M465.2 662.6L467.2 653.5M473.3 705.2L475.3 699.2M476.9 724.5L478.3 715.4M478.3 715.4L480.0 689.0M480.0 689.0L481.4 673.8M481.4 673.8L483.0 666.7M484.8 677.9L487.4 672.7M487.4 672.7L489.5 669.7M489.5 669.7L490.9 660.6M490.9 660.6L493.5 659.6M493.5 659.6L495.0 644.4M495.0 644.4L498.2 643.4M498.2 643.4L500.0 625.0M500.0 625.0L501.0 608.0M503.2 680.0L505.7 669.7M505.7 669.7L507.7 657.5M507.7 657.5L509.3 641.3M509.3 641.3L510.0 588.7M510.0 588.7L510.7 535.7M526.9 640.3L528.3 629.2M528.3 629.2L529.3 617.0M529.3 617.0L531.4 608.0M539.0 694.0L541.0 673.8M545.3 680.5L548.0 680.0M548.0 680.0L550.2 674.3M550.2 674.3L553.0 669.8M554.5 680.0L556.8 670.7M556.8 670.7L558.3 669.7M559.7 690.0L561.3 680.0M561.3 680.0L563.0 677.8M563.0 677.8L566.0 667.6M566.0 667.6L569.0 662.6M573.0 702.2L575.8 695.0M575.8 695.0L576.6 666.0M576.6 666.0L577.2 637.3M577.2 637.3L579.2 629.2M579.2 629.2L579.8 604.9M579.8 604.9L580.8 576.6M589.3 638.3L591.0 632.2M593.0 660.6L595.4 656.5M597.4 702.2L598.9 673.0M598.9 673.0L600.5 645.4M600.5 645.4L601.5 627.2M601.5 627.2L602.5 615.0M602.5 615.0L603.0 601.9M603.0 601.9L605.5 599.8M605.5 599.8L607.0 583.7M617.7 697.0L619.3 683.0M619.3 683.0L620.5 674.0M620.5 674.0L621.7 667.6M621.7 667.6L622.7 647.4M622.7 647.4L623.8 625.0M623.8 625.0L624.8 602.9M624.8 602.9L625.8 592.8M625.8 592.8L626.8 583.7M628.8 600.9L629.8 573.5M629.8 573.5L630.8 545.8M643.0 635.3L644.0 621.0M644.0 621.0L645.0 604.9M645.0 604.9L646.6 590.7M657.0 629.2L658.8 616.0M665.2 704.2L666.9 681.0M666.9 681.0L667.6 660.0M667.6 660.0L669.3 650.4M671.0 655.5L671.7 625.0M671.7 625.0L672.7 593.8M675.4 595.8L676.4 587.7M676.4 587.7L677.0 581.0M679.8 625.0L681.4 622.0M687.0 674.8L688.5 667.6M688.5 667.6L689.5 647.4M689.5 647.4L691.0 627.2M697.8 681.0L699.0 653.5M701.0 655.5L702.3 631.2M702.3 631.2L703.3 605.9M703.3 605.9L705.3 604.9M706.7 622.0L708.0 609.0M708.0 609.0L709.2 581.6M713.4 671.7L715.4 670.7M715.4 670.7L716.9 651.5M716.9 651.5L718.9 641.3M725.3 677.0L727.0 669.7M727.0 669.7L729.6 662.6M729.6 662.6L731.0 649.4M735.0 665.6L737.0 653.5M737.0 653.5L738.0 623.0M738.0 623.0L739.0 593.8M747.2 727.9L748.6 715.4M748.6 715.4L750.2 701.2M750.2 701.2L752.3 681.0M752.3 681.0L752.9 671.0M752.9 671.0L754.3 655.5M754.3 655.5L755.7 637.3M755.7 637.3L756.9 626.2M758.3 633.2L760.0 619.0M760.0 619.0L761.0 602.9M761.0 602.9L763.0 601.3M765.0 637.3L766.0 621.0M769.5 643.4L771.5 635.3M771.5 635.3L772.5 613.0M772.5 613.0L773.0 592.4M781.2 691.0L783.2 688.0M785.0 699.2L786.7 687.0M786.7 687.0L788.3 677.0M788.3 677.0L789.7 672.9M789.7 672.9L790.7 671.7M790.7 671.7L792.0 649.4M792.0 649.4L793.8 631.2M793.8 631.2L795.2 619.0M795.2 619.0L797.2 614.0M799.4 646.4L801.2 639.3M808.5 671.7L810.0 667.6M810.0 667.6L811.0 632.2M815.4 730.0L816.6 709.3M816.6 709.3L817.4 691.0M817.4 691.0L819.0 681.0M819.0 681.0L821.0 665.7M825.0 689.0L826.5 667.0M826.5 667.0L827.6 649.4M827.6 649.4L830.2 644.4M830.2 644.4L832.2 641.3M832.2 641.3L832.8 617.0M832.8 617.0L833.6 592.8M838.9 652.5L840.3 617.0M842.6 637.3L844.5 620.0M847.5 668.7L849.5 655.5M849.5 655.5L850.5 625.0M850.5 625.0L851.5 594.8M857.4 686.0L859.2 681.0M859.2 681.0L860.2 660.7M860.2 660.7L861.3 659.6M862.7 661.6L864.7 649.4M867.3 663.6L869.3 649.4M869.3 649.4L870.4 617.0M870.4 617.0L871.4 587.7M873.4 604.9L874.8 591.8M879.0 616.0L880.0 615.0M880.0 615.0L881.0 580.6M897.3 713.0L898.7 697.0M898.7 697.0L899.7 668.8M899.7 668.8L901.0 660.7M903.8 678.8L905.5 675.5M907.0 681.0L909.2 676.5M911.2 707.3L912.5 693.0M912.5 693.0L913.3 675.0M913.3 675.0L914.3 669.7M914.3 669.7L915.9 657.5M915.9 657.5L917.5 650.8M921.4 661.6L923.4 659.6M923.4 659.6L925.0 654.5M931.0 718.0L932.5 701.2M932.5 701.2L933.5 685.0M933.5 685.0L934.7 665.7M934.7 665.7L937.0 661.6M938.8 671.7L939.8 633.2M939.8 633.2L940.8 594.8M940.8 594.8L943.2 593.8M943.2 593.8L944.6 583.7M957.4 665.6L958.4 645.4M958.4 645.4L959.0 625.0M962.0 665.6L962.9 651.5M965.0 714.3L966.5 705.2M966.5 705.2L968.0 693.0M968.0 693.0L969.0 685.0M971.0 689.0L972.0 677.0M972.0 677.0L972.7 655.0M975.2 657.5L977.2 649.4M977.2 649.4L979.7 645.4M979.7 645.4L981.0 623.0M981.0 623.0L982.3 594.8M982.3 594.8L983.0 567.9M985.0 592.8L986.7 586.7M989.8 601.9L991.8 600.9M997.5 659.6L999.3 655.5M1001.3 671.7L1002.9 657.5M1002.9 657.5L1003.9 633.2M1003.9 633.2L1005.0 609.0M1007.0 637.3L1008.4 623.0M1008.4 623.0L1009.6 602.9M1009.6 602.9L1011.0 590.7M1013.0 613.0L1015.0 608.0M1019.5 653.5L1021.0 633.2M1021.0 633.2L1022.0 615.0M1022.0 615.0L1023.2 596.8M1027.2 629.2L1029.2 621.0M1031.3 666.6L1033.3 655.5M1033.3 655.5L1034.3 639.3M1034.3 639.3L1034.9 623.0M1036.7 661.6L1038.3 641.3M1038.3 641.3L1039.4 627.2M1043.0 660.6L1044.8 643.4M1053.5 689.0L1055.0 677.0M1055.0 677.0L1056.6 667.0M1056.6 667.0L1057.6 665.6M1057.6 665.6L1058.6 625.0M1058.6 625.0L1059.2 582.6M1059.2 582.6L1060.2 562.4M1069.0 628.2L1071.3 617.0M1071.3 617.0L1072.7 588.7M1072.7 588.7L1074.8 583.7M1078.8 622.0L1080.8 615.0M1080.8 615.0L1082.9 592.8M1082.9 592.8L1085.3 588.7M1086.9 607.0L1090.0 603.9M1090.0 603.9L1092.0 600.9M1092.0 600.9L1093.4 593.8M1101.0 639.3L1102.0 617.0M1102.0 617.0L1102.7 592.8" stroke="#9494FF"/>
</g>
<g shape-rendering="crispEdges" fill="#fff">
<rect x="1391" y="38" width="2" height="1"/>
<rect x="1391" y="72" width="2" height="1"/>
<rect x="1391" y="107" width="2" height="1"/>
<rect x="1391" y="141" width="2" height="1"/>
<rect x="1391" y="175" width="2" height="1"/>
<rect x="1391" y="210" width="2" height="1"/>
<rect x="1391" y="244" width="2" height="1"/>
<rect x="1391" y="278" width="2" height="1"/>
<rect x="1391" y="313" width="2" height="1"/>
<rect x="1391" y="347" width="2" height="1"/>
<rect x="1391" y="382" width="2" height="1"/>
<rect x="1391" y="416" width="2" height="1"/>
<rect x="1391" y="450" width="2" height="1"/>
<rect x="1391" y="485" width="2" height="1"/>
<rect x="1391" y="519" width="2" height="1"/>
<rect x="1391" y="526" width="2" height="1"/>
<rect x="1391" y="605" width="2" height="1"/>
<rect x="1391" y="641" width="2" height="1"/>
<rect x="1391" y="676" width="2" height="1"/>
<rect x="1391" y="739" width="2" height="1"/>
<rect x="3" y="741" width="1" height="3"/>
<rect x="67" y="741" width="1" height="3"/>
<rect x="131" y="741" width="1" height="3"/>
<rect x="195" y="741" width="1" height="3"/>
<rect x="259" y="741" width="1" height="3"/>
<rect x="323" y="741" width="1" height="3"/>
<rect x="387" y="741" width="1" height="3"/>
<rect x="451" y="741" width="1" height="3"/>
<rect x="515" y="741" width="1" height="3"/>
<rect x="579" y="741" width="1" height="3"/>
<rect x="643" y="741" width="1" height="3"/>
<rect x="707" y="741" width="1" height="3"/>
<rect x="771" y="741" width="1" height="3"/>
<rect x="835" y="741" width="1" height="3"/>
<rect x="899" y="741" width="1" height="3"/>
<rect x="963" y="741" width="1" height="3"/>
<rect x="1027" y="741" width="1" height="3"/>
<rect x="1091" y="741" width="1" height="3"/>
</g>
<text x="1396" y="41.7" font-size="9.5" fill="#fff" stroke="#fff" stroke-width="0.25" textLength="33" lengthAdjust="spacingAndGlyphs">2332.25</text>
<text x="1396" y="75.7" font-size="9.5" fill="#fff" stroke="#fff" stroke-width="0.25" textLength="33" lengthAdjust="spacingAndGlyphs">2331.60</text>
<text x="1396" y="110.7" font-size="9.5" fill="#fff" stroke="#fff" stroke-width="0.25" textLength="33" lengthAdjust="spacingAndGlyphs">2330.95</text>
<text x="1396" y="144.7" font-size="9.5" fill="#fff" stroke="#fff" stroke-width="0.25" textLength="33" lengthAdjust="spacingAndGlyphs">2330.30</text>
<text x="1396" y="178.7" font-size="9.5" fill="#fff" stroke="#fff" stroke-width="0.25" textLength="33" lengthAdjust="spacingAndGlyphs">2329.65</text>
<text x="1396" y="213.7" font-size="9.5" fill="#fff" stroke="#fff" stroke-width="0.25" textLength="33" lengthAdjust="spacingAndGlyphs">2329.00</text>
<text x="1396" y="247.7" font-size="9.5" fill="#fff" stroke="#fff" stroke-width="0.25" textLength="33" lengthAdjust="spacingAndGlyphs">2328.35</text>
<text x="1396" y="281.7" font-size="9.5" fill="#fff" stroke="#fff" stroke-width="0.25" textLength="33" lengthAdjust="spacingAndGlyphs">2327.70</text>
<text x="1396" y="316.7" font-size="9.5" fill="#fff" stroke="#fff" stroke-width="0.25" textLength="33" lengthAdjust="spacingAndGlyphs">2327.05</text>
<text x="1396" y="350.7" font-size="9.5" fill="#fff" stroke="#fff" stroke-width="0.25" textLength="33" lengthAdjust="spacingAndGlyphs">2326.40</text>
<text x="1396" y="385.7" font-size="9.5" fill="#fff" stroke="#fff" stroke-width="0.25" textLength="33" lengthAdjust="spacingAndGlyphs">2325.75</text>
<text x="1396" y="419.7" font-size="9.5" fill="#fff" stroke="#fff" stroke-width="0.25" textLength="33" lengthAdjust="spacingAndGlyphs">2325.10</text>
<text x="1396" y="453.7" font-size="9.5" fill="#fff" stroke="#fff" stroke-width="0.25" textLength="33" lengthAdjust="spacingAndGlyphs">2324.45</text>
<text x="1396" y="488.7" font-size="9.5" fill="#fff" stroke="#fff" stroke-width="0.25" textLength="33" lengthAdjust="spacingAndGlyphs">2323.80</text>
<text x="1396" y="522.7" font-size="9.5" fill="#fff" stroke="#fff" stroke-width="0.25" textLength="33" lengthAdjust="spacingAndGlyphs">2323.15</text>
<rect x="1392" y="64" width="41" height="11" fill="#fff" shape-rendering="crispEdges"/>
<text x="1396" y="73" font-size="9.5" fill="#000" stroke="#000" stroke-width="0.25" textLength="33" lengthAdjust="spacingAndGlyphs">2331.67</text>
<rect x="1392" y="151" width="41" height="11" fill="#6a6a6a" shape-rendering="crispEdges"/>
<text x="1396" y="160" font-size="9.5" fill="#111" stroke="#111" stroke-width="0.25" textLength="33" lengthAdjust="spacingAndGlyphs">2330.00</text>
<text x="1394" y="535" font-size="9.5" fill="#fff" stroke="#fff" stroke-width="0.25" textLength="44" lengthAdjust="spacingAndGlyphs">327.71255</text>
<text x="1394" y="609" font-size="9.5" fill="#fff" stroke="#fff" stroke-width="0.25" textLength="15" lengthAdjust="spacingAndGlyphs">100</text>
<text x="1394" y="645" font-size="9.5" fill="#fff" stroke="#fff" stroke-width="0.25" textLength="19" lengthAdjust="spacingAndGlyphs">0.00</text>
<text x="1394" y="680" font-size="9.5" fill="#fff" stroke="#fff" stroke-width="0.25" textLength="19" lengthAdjust="spacingAndGlyphs">-100</text>
<text x="1394" y="737" font-size="9.5" fill="#fff" stroke="#fff" stroke-width="0.25" textLength="44" lengthAdjust="spacingAndGlyphs">-281.9635</text>
<text x="2" y="753" font-size="9.5" fill="#fff" stroke="#fff" stroke-width="0.25" textLength="42" lengthAdjust="spacingAndGlyphs">2 Jul 2024</text>
<text x="66" y="753" font-size="9.5" fill="#fff" stroke="#fff" stroke-width="0.25" textLength="44" lengthAdjust="spacingAndGlyphs">2 Jul 21:17</text>
<text x="130" y="753" font-size="9.5" fill="#fff" stroke="#fff" stroke-width="0.25" textLength="44" lengthAdjust="spacingAndGlyphs">2 Jul 21:49</text>
<text x="194" y="753" font-size="9.5" fill="#fff" stroke="#fff" stroke-width="0.25" textLength="44" lengthAdjust="spacingAndGlyphs">2 Jul 22:21</text>
<text x="258" y="753" font-size="9.5" fill="#fff" stroke="#fff" stroke-width="0.25" textLength="44" lengthAdjust="spacingAndGlyphs">2 Jul 22:53</text>
<text x="322" y="753" font-size="9.5" fill="#fff" stroke="#fff" stroke-width="0.25" textLength="44" lengthAdjust="spacingAndGlyphs">2 Jul 23:25</text>
<text x="386" y="753" font-size="9.5" fill="#fff" stroke="#fff" stroke-width="0.25" textLength="44" lengthAdjust="spacingAndGlyphs">2 Jul 23:57</text>
<text x="450" y="753" font-size="9.5" fill="#fff" stroke="#fff" stroke-width="0.25" textLength="44" lengthAdjust="spacingAndGlyphs">3 Jul 01:30</text>
<text x="514" y="753" font-size="9.5" fill="#fff" stroke="#fff" stroke-width="0.25" textLength="44" lengthAdjust="spacingAndGlyphs">3 Jul 02:02</text>
<text x="578" y="753" font-size="9.5" fill="#fff" stroke="#fff" stroke-width="0.25" textLength="44" lengthAdjust="spacingAndGlyphs">3 Jul 02:34</text>
<text x="642" y="753" font-size="9.5" fill="#fff" stroke="#fff" stroke-width="0.25" textLength="44" lengthAdjust="spacingAndGlyphs">3 Jul 03:06</text>
<text x="706" y="753" font-size="9.5" fill="#fff" stroke="#fff" stroke-width="0.25" textLength="44" lengthAdjust="spacingAndGlyphs">3 Jul 03:38</text>
<text x="770" y="753" font-size="9.5" fill="#fff" stroke="#fff" stroke-width="0.25" textLength="44" lengthAdjust="spacingAndGlyphs">3 Jul 04:10</text>
<text x="834" y="753" font-size="9.5" fill="#fff" stroke="#fff" stroke-width="0.25" textLength="44" lengthAdjust="spacingAndGlyphs">3 Jul 04:42</text>
<text x="898" y="753" font-size="9.5" fill="#fff" stroke="#fff" stroke-width="0.25" textLength="44" lengthAdjust="spacingAndGlyphs">3 Jul 05:14</text>
<text x="962" y="753" font-size="9.5" fill="#fff" stroke="#fff" stroke-width="0.25" textLength="44" lengthAdjust="spacingAndGlyphs">3 Jul 05:46</text>
<text x="1026" y="753" font-size="9.5" fill="#fff" stroke="#fff" stroke-width="0.25" textLength="44" lengthAdjust="spacingAndGlyphs">3 Jul 06:18</text>
<text x="1090" y="753" font-size="9.5" fill="#fff" stroke="#fff" stroke-width="0.25" textLength="44" lengthAdjust="spacingAndGlyphs">3 Jul 06:50</text>
<polygon points="6,9 13.6,9 9.8,13" fill="#fff"/>
<text x="17.5" y="14" font-size="9.5" fill="#fff" stroke="#fff" stroke-width="0.25" textLength="55.5" lengthAdjust="spacingAndGlyphs">XAUUSD,M1</text>
<text x="7" y="537" font-size="9.5" fill="#fff" stroke="#fff" stroke-width="0.25" textLength="221" lengthAdjust="spacingAndGlyphs">scMTF CCI (9,0,0,0,1) - www.truetl.com -144.85714</text>
<rect x="1254" y="4" width="58" height="18" fill="#696969" shape-rendering="crispEdges"/>
<text x="1263.2" y="18" font-size="13" fill="#00FF00" stroke="#00FF00" stroke-width="0.25" textLength="36.6" lengthAdjust="spacingAndGlyphs">xu ON</text>
<rect x="1253" y="492" width="92" height="26" rx="2" ry="2" fill="#8B0000"/>
<text x="1255.6" y="513.4" font-size="22" font-weight="bold" fill="#fff" stroke="#fff" stroke-width="1.1" textLength="85" lengthAdjust="spacingAndGlyphs">SEMAFOR2</text>
</svg></body></html>
